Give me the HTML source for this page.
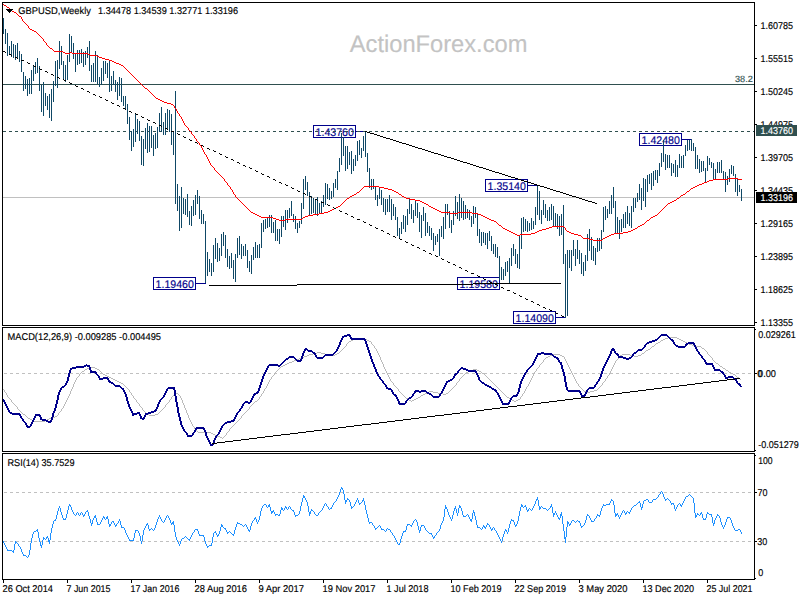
<!DOCTYPE html>
<html><head><meta charset="utf-8"><title>GBPUSD Weekly</title>
<style>html,body{margin:0;padding:0;background:#fff;overflow:hidden}body{width:800px;height:600px;font-family:"Liberation Sans",sans-serif}</style>
</head><body>
<svg width="800" height="600" viewBox="0 0 800 600" style="display:block;font-family:'Liberation Sans',sans-serif;text-rendering:geometricPrecision">
<rect x="0" y="0" width="800" height="600" fill="#ffffff"/>
<g shape-rendering="crispEdges">
<text transform="translate(349.8 51.6) scale(1 1.0)" font-size="24px" fill="#c3c3c3" stroke="#c3c3c3" stroke-width="0.15" text-anchor="start" textLength="177.6" lengthAdjust="spacingAndGlyphs" shape-rendering="auto">ActionForex.com</text>
<rect x="313.5" y="125.5" width="42" height="12" fill="#fff" stroke="#00008b" stroke-width="1"/>
<text transform="translate(315.6 135.7) scale(1 1.0)" font-size="11px" fill="#00008b" stroke="#00008b" stroke-width="0.15" text-anchor="start" textLength="38.3" lengthAdjust="spacingAndGlyphs" >1.43760</text>
<rect x="356" y="131" width="10" height="1" fill="#00008b" />
<rect x="639.5" y="133.5" width="42" height="12" fill="#fff" stroke="#00008b" stroke-width="1"/>
<text transform="translate(641.6 143.7) scale(1 1.0)" font-size="11px" fill="#00008b" stroke="#00008b" stroke-width="0.15" text-anchor="start" textLength="38.3" lengthAdjust="spacingAndGlyphs" >1.42480</text>
<rect x="682" y="139" width="10" height="1" fill="#00008b" />
<rect x="485.5" y="179.5" width="42" height="12" fill="#fff" stroke="#00008b" stroke-width="1"/>
<text transform="translate(487.6 189.7) scale(1 1.0)" font-size="11px" fill="#00008b" stroke="#00008b" stroke-width="0.15" text-anchor="start" textLength="38.3" lengthAdjust="spacingAndGlyphs" >1.35140</text>
<rect x="528" y="185" width="10" height="1" fill="#00008b" />
<rect x="153.5" y="277.5" width="42" height="12" fill="#fff" stroke="#00008b" stroke-width="1"/>
<text transform="translate(155.6 287.7) scale(1 1.0)" font-size="11px" fill="#00008b" stroke="#00008b" stroke-width="0.15" text-anchor="start" textLength="38.3" lengthAdjust="spacingAndGlyphs" >1.19460</text>
<rect x="196" y="283" width="10" height="1" fill="#00008b" />
<rect x="457.5" y="277.5" width="42" height="12" fill="#fff" stroke="#00008b" stroke-width="1"/>
<text transform="translate(459.6 287.7) scale(1 1.0)" font-size="11px" fill="#00008b" stroke="#00008b" stroke-width="0.15" text-anchor="start" textLength="38.3" lengthAdjust="spacingAndGlyphs" >1.19580</text>
<rect x="500" y="283" width="10" height="1" fill="#00008b" />
<rect x="513.5" y="311.5" width="42" height="12" fill="#fff" stroke="#00008b" stroke-width="1"/>
<text transform="translate(515.6 321.7) scale(1 1.0)" font-size="11px" fill="#00008b" stroke="#00008b" stroke-width="0.15" text-anchor="start" textLength="38.3" lengthAdjust="spacingAndGlyphs" >1.14090</text>
<rect x="556" y="317" width="10" height="1" fill="#00008b" />
<rect x="3" y="84" width="751" height="1" fill="#2f4f4f" />
<text transform="translate(735 82) scale(1 1.0)" font-size="9px" fill="#2f4f4f" stroke="#2f4f4f" stroke-width="0.15" text-anchor="start" textLength="17.8" lengthAdjust="spacingAndGlyphs" >38.2</text>
<rect x="3" y="197" width="751" height="1" fill="#c0c0c0" />
<path d="M3 131h3v1h-3zM9 131h3v1h-3zM15 131h3v1h-3zM21 131h3v1h-3zM27 131h3v1h-3zM33 131h3v1h-3zM39 131h3v1h-3zM45 131h3v1h-3zM51 131h3v1h-3zM57 131h3v1h-3zM63 131h3v1h-3zM69 131h3v1h-3zM75 131h3v1h-3zM81 131h3v1h-3zM87 131h3v1h-3zM93 131h3v1h-3zM99 131h3v1h-3zM105 131h3v1h-3zM111 131h3v1h-3zM117 131h3v1h-3zM123 131h3v1h-3zM129 131h3v1h-3zM135 131h3v1h-3zM141 131h3v1h-3zM147 131h3v1h-3zM153 131h3v1h-3zM159 131h3v1h-3zM165 131h3v1h-3zM171 131h3v1h-3zM177 131h3v1h-3zM183 131h3v1h-3zM189 131h3v1h-3zM195 131h3v1h-3zM201 131h3v1h-3zM207 131h3v1h-3zM213 131h3v1h-3zM219 131h3v1h-3zM225 131h3v1h-3zM231 131h3v1h-3zM237 131h3v1h-3zM243 131h3v1h-3zM249 131h3v1h-3zM255 131h3v1h-3zM261 131h3v1h-3zM267 131h3v1h-3zM273 131h3v1h-3zM279 131h3v1h-3zM285 131h3v1h-3zM291 131h3v1h-3zM297 131h3v1h-3zM303 131h3v1h-3zM309 131h3v1h-3zM315 131h3v1h-3zM321 131h3v1h-3zM327 131h3v1h-3zM333 131h3v1h-3zM339 131h3v1h-3zM345 131h3v1h-3zM351 131h3v1h-3zM357 131h3v1h-3zM363 131h3v1h-3zM369 131h3v1h-3zM375 131h3v1h-3zM381 131h3v1h-3zM387 131h3v1h-3zM393 131h3v1h-3zM399 131h3v1h-3zM405 131h3v1h-3zM411 131h3v1h-3zM417 131h3v1h-3zM423 131h3v1h-3zM429 131h3v1h-3zM435 131h3v1h-3zM441 131h3v1h-3zM447 131h3v1h-3zM453 131h3v1h-3zM459 131h3v1h-3zM465 131h3v1h-3zM471 131h3v1h-3zM477 131h3v1h-3zM483 131h3v1h-3zM489 131h3v1h-3zM495 131h3v1h-3zM501 131h3v1h-3zM507 131h3v1h-3zM513 131h3v1h-3zM519 131h3v1h-3zM525 131h3v1h-3zM531 131h3v1h-3zM537 131h3v1h-3zM543 131h3v1h-3zM549 131h3v1h-3zM555 131h3v1h-3zM561 131h3v1h-3zM567 131h3v1h-3zM573 131h3v1h-3zM579 131h3v1h-3zM585 131h3v1h-3zM591 131h3v1h-3zM597 131h3v1h-3zM603 131h3v1h-3zM609 131h3v1h-3zM615 131h3v1h-3zM621 131h3v1h-3zM627 131h3v1h-3zM633 131h3v1h-3zM639 131h3v1h-3zM645 131h3v1h-3zM651 131h3v1h-3zM657 131h3v1h-3zM663 131h3v1h-3zM669 131h3v1h-3zM675 131h3v1h-3zM681 131h3v1h-3zM687 131h3v1h-3zM693 131h3v1h-3zM699 131h3v1h-3zM705 131h3v1h-3zM711 131h3v1h-3zM717 131h3v1h-3zM723 131h3v1h-3zM729 131h3v1h-3zM735 131h3v1h-3zM741 131h3v1h-3zM747 131h3v1h-3zM753 131h1v1h-1z" fill="#2f4f4f"/>
<path d="M3 18h1v16h-1zM5 29h1v15h-1zM7 33h1v23h-1zM9 46h1v8h-1zM11 41h1v16h-1zM13 44h1v14h-1zM15 45h1v15h-1zM17 43h1v16h-1zM19 51h1v11h-1zM21 54h1v18h-1zM23 72h1v19h-1zM25 76h1v13h-1zM27 79h1v17h-1zM29 78h1v16h-1zM31 70h1v24h-1zM33 65h1v16h-1zM35 62h1v12h-1zM37 58h1v15h-1zM39 66h1v25h-1zM41 85h1v27h-1zM43 82h1v34h-1zM45 93h1v13h-1zM47 96h1v14h-1zM49 94h1v24h-1zM51 89h1v32h-1zM53 81h1v21h-1zM55 61h1v25h-1zM57 60h1v28h-1zM59 41h1v28h-1zM61 46h1v19h-1zM63 61h1v18h-1zM65 65h1v17h-1zM67 55h1v25h-1zM69 34h1v28h-1zM71 36h1v16h-1zM73 43h1v16h-1zM75 54h1v18h-1zM77 50h1v15h-1zM79 50h1v14h-1zM81 49h1v14h-1zM83 52h1v15h-1zM85 51h1v14h-1zM87 47h1v11h-1zM89 41h1v30h-1zM91 65h1v17h-1zM93 63h1v19h-1zM95 51h1v31h-1zM97 55h1v29h-1zM99 77h1v10h-1zM101 68h1v17h-1zM103 61h1v20h-1zM105 61h1v13h-1zM107 63h1v15h-1zM109 61h1v31h-1zM111 76h1v15h-1zM113 71h1v14h-1zM115 80h1v12h-1zM117 82h1v18h-1zM119 77h1v19h-1zM121 78h1v24h-1zM123 96h1v10h-1zM125 96h1v13h-1zM127 104h1v20h-1zM129 117h1v23h-1zM131 131h1v20h-1zM133 129h1v18h-1zM135 114h1v28h-1zM137 119h1v15h-1zM139 121h1v20h-1zM141 136h1v29h-1zM143 139h1v27h-1zM145 128h1v21h-1zM147 123h1v30h-1zM149 126h1v26h-1zM151 126h1v22h-1zM153 135h1v21h-1zM155 133h1v16h-1zM157 127h1v21h-1zM159 113h1v19h-1zM161 107h1v25h-1zM163 122h1v13h-1zM165 113h1v22h-1zM167 109h1v20h-1zM169 110h1v22h-1zM171 114h1v31h-1zM173 131h1v24h-1zM175 91h1v113h-1zM177 184h1v27h-1zM179 196h1v35h-1zM181 187h1v41h-1zM183 198h1v16h-1zM185 199h1v16h-1zM187 194h1v23h-1zM189 211h1v14h-1zM191 206h1v20h-1zM193 200h1v16h-1zM195 195h1v20h-1zM197 190h1v14h-1zM199 196h1v23h-1zM201 210h1v14h-1zM203 214h1v10h-1zM205 221h1v62h-1zM207 252h1v24h-1zM209 259h1v13h-1zM211 263h1v13h-1zM213 245h1v27h-1zM215 238h1v21h-1zM217 243h1v19h-1zM219 248h1v13h-1zM221 234h1v22h-1zM223 232h1v14h-1zM225 235h1v23h-1zM227 249h1v18h-1zM229 256h1v13h-1zM231 253h1v15h-1zM233 260h1v19h-1zM235 254h1v28h-1zM237 238h1v20h-1zM239 236h1v19h-1zM241 244h1v15h-1zM243 246h1v10h-1zM245 244h1v12h-1zM247 250h1v18h-1zM249 261h1v11h-1zM251 255h1v19h-1zM253 247h1v13h-1zM255 242h1v16h-1zM257 245h1v13h-1zM259 244h1v14h-1zM261 223h1v25h-1zM263 220h1v12h-1zM265 219h1v10h-1zM267 218h1v10h-1zM269 215h1v12h-1zM271 215h1v18h-1zM273 222h1v11h-1zM275 220h1v21h-1zM277 229h1v12h-1zM279 229h1v15h-1zM281 216h1v21h-1zM283 216h1v11h-1zM285 210h1v20h-1zM287 210h1v13h-1zM289 208h1v10h-1zM291 201h1v15h-1zM293 214h1v8h-1zM295 216h1v13h-1zM297 223h1v10h-1zM299 221h1v7h-1zM301 203h1v21h-1zM303 179h1v30h-1zM305 176h1v14h-1zM307 182h1v14h-1zM309 192h1v24h-1zM311 196h1v18h-1zM313 198h1v15h-1zM315 199h1v15h-1zM317 197h1v19h-1zM319 203h1v11h-1zM321 201h1v13h-1zM323 195h1v12h-1zM325 183h1v22h-1zM327 184h1v15h-1zM329 188h1v12h-1zM331 191h1v8h-1zM333 183h1v14h-1zM335 179h1v9h-1zM337 171h1v19h-1zM339 158h1v14h-1zM341 133h1v32h-1zM343 137h1v19h-1zM345 146h1v25h-1zM347 146h1v23h-1zM349 152h1v13h-1zM351 151h1v23h-1zM353 159h1v12h-1zM355 155h1v11h-1zM357 141h1v20h-1zM359 140h1v15h-1zM361 148h1v10h-1zM363 136h1v15h-1zM365 132h1v25h-1zM367 153h1v19h-1zM369 168h1v20h-1zM371 179h1v11h-1zM373 179h1v10h-1zM375 186h1v14h-1zM377 195h1v11h-1zM379 188h1v11h-1zM381 190h1v15h-1zM383 198h1v14h-1zM385 199h1v16h-1zM387 199h1v13h-1zM389 195h1v17h-1zM391 199h1v21h-1zM393 204h1v12h-1zM395 207h1v13h-1zM397 217h1v19h-1zM399 228h1v11h-1zM401 222h1v12h-1zM403 215h1v14h-1zM405 216h1v16h-1zM407 209h1v16h-1zM409 199h1v15h-1zM411 204h1v15h-1zM413 210h1v13h-1zM415 201h1v15h-1zM417 203h1v15h-1zM419 212h1v20h-1zM421 215h1v23h-1zM423 207h1v14h-1zM425 213h1v23h-1zM427 222h1v11h-1zM429 226h1v10h-1zM431 228h1v12h-1zM433 233h1v18h-1zM435 236h1v9h-1zM437 234h1v8h-1zM439 229h1v27h-1zM441 226h1v11h-1zM443 217h1v22h-1zM445 204h1v25h-1zM447 204h1v11h-1zM449 211h1v17h-1zM451 220h1v13h-1zM453 211h1v14h-1zM455 196h1v20h-1zM457 202h1v17h-1zM459 194h1v27h-1zM461 198h1v20h-1zM463 201h1v19h-1zM465 205h1v14h-1zM467 209h1v9h-1zM469 210h1v10h-1zM471 216h1v11h-1zM473 206h1v18h-1zM475 207h1v11h-1zM477 213h1v23h-1zM479 229h1v14h-1zM481 232h1v14h-1zM483 232h1v11h-1zM485 233h1v12h-1zM487 233h1v16h-1zM489 231h1v10h-1zM491 236h1v15h-1zM493 244h1v10h-1zM495 244h1v13h-1zM497 247h1v11h-1zM499 256h1v24h-1zM501 267h1v13h-1zM503 269h1v11h-1zM505 262h1v14h-1zM507 261h1v11h-1zM509 258h1v26h-1zM511 248h1v18h-1zM513 244h1v12h-1zM515 249h1v15h-1zM517 254h1v14h-1zM519 235h1v34h-1zM521 218h1v31h-1zM523 217h1v15h-1zM525 219h1v12h-1zM527 221h1v11h-1zM529 223h1v8h-1zM531 218h1v12h-1zM533 221h1v8h-1zM535 207h1v18h-1zM537 185h1v30h-1zM539 191h1v29h-1zM541 210h1v14h-1zM543 200h1v15h-1zM545 204h1v14h-1zM547 210h1v11h-1zM549 207h1v14h-1zM551 204h1v16h-1zM553 206h1v20h-1zM555 213h1v13h-1zM557 214h1v15h-1zM559 216h1v20h-1zM561 214h1v21h-1zM563 205h1v59h-1zM565 254h1v64h-1zM567 250h1v66h-1zM569 250h1v18h-1zM571 250h1v21h-1zM573 240h1v16h-1zM575 249h1v17h-1zM577 240h1v19h-1zM579 250h1v14h-1zM581 253h1v21h-1zM583 262h1v14h-1zM585 255h1v16h-1zM587 234h1v27h-1zM589 229h1v22h-1zM591 237h1v23h-1zM593 246h1v15h-1zM595 248h1v17h-1zM597 238h1v14h-1zM599 238h1v13h-1zM601 230h1v19h-1zM603 207h1v25h-1zM605 206h1v14h-1zM607 209h1v9h-1zM609 201h1v13h-1zM611 195h1v19h-1zM613 187h1v21h-1zM615 201h1v32h-1zM617 217h1v16h-1zM619 220h1v19h-1zM621 219h1v13h-1zM623 214h1v14h-1zM625 212h1v16h-1zM627 206h1v18h-1zM629 213h1v13h-1zM631 206h1v22h-1zM633 198h1v14h-1zM635 198h1v10h-1zM637 193h1v9h-1zM639 184h1v16h-1zM641 188h1v22h-1zM643 178h1v23h-1zM645 179h1v28h-1zM647 175h1v17h-1zM649 174h1v10h-1zM651 173h1v17h-1zM653 171h1v15h-1zM655 170h1v10h-1zM657 170h1v13h-1zM659 163h1v13h-1zM661 153h1v14h-1zM663 140h1v22h-1zM665 154h1v16h-1zM667 155h1v13h-1zM669 155h1v13h-1zM671 163h1v13h-1zM673 164h1v9h-1zM675 160h1v17h-1zM677 165h1v12h-1zM679 154h1v14h-1zM681 156h1v12h-1zM683 155h1v13h-1zM685 145h1v11h-1zM687 140h1v11h-1zM689 140h1v10h-1zM691 139h1v12h-1zM693 143h1v8h-1zM695 147h1v22h-1zM697 155h1v14h-1zM699 159h1v14h-1zM701 161h1v11h-1zM703 161h1v10h-1zM705 168h1v14h-1zM707 156h1v15h-1zM709 158h1v7h-1zM711 162h1v6h-1zM713 163h1v17h-1zM715 169h1v11h-1zM717 162h1v11h-1zM719 162h1v11h-1zM721 160h1v13h-1zM723 171h1v8h-1zM725 172h1v20h-1zM727 176h1v9h-1zM729 169h1v13h-1zM731 165h1v9h-1zM733 166h1v10h-1zM735 174h1v18h-1zM737 178h1v18h-1zM739 185h1v7h-1zM741 189h1v12h-1z" fill="#0f4866"/>
<path d="M3 4h1v1h-1zM4 5h2v1h-2zM6 6h1v1h-1zM7 7h2v1h-2zM9 8h1v1h-1zM10 9h1v1h-1zM11 10h1v1h-1zM12 11h2v1h-2zM14 12h2v1h-2zM16 13h1v1h-1zM17 14h1v1h-1zM18 15h1v1h-1zM19 16h2v1h-2zM21 17h1v2h-1zM22 19h1v2h-1zM23 21h1v1h-1zM24 22h1v1h-1zM25 23h1v1h-1zM26 24h1v1h-1zM27 25h1v1h-1zM28 26h1v2h-1zM29 28h1v1h-1zM30 29h2v1h-2zM32 30h2v1h-2zM34 31h2v1h-2zM36 32h1v1h-1zM37 33h1v1h-1zM38 34h1v1h-1zM39 35h1v1h-1zM40 36h1v1h-1zM41 37h1v1h-1zM42 38h1v1h-1zM43 39h1v2h-1zM44 41h1v1h-1zM45 42h1v1h-1zM46 43h1v2h-1zM47 45h1v1h-1zM48 46h1v1h-1zM49 47h1v1h-1zM50 48h2v1h-2zM52 49h1v1h-1zM53 50h1v1h-1zM54 51h9v1h-9zM63 52h2v1h-2zM65 53h5v1h-5zM70 52h2v1h-2zM72 53h16v1h-16zM88 54h2v1h-2zM90 55h7v1h-7zM97 56h2v1h-2zM99 57h3v1h-3zM102 58h3v1h-3zM105 59h4v1h-4zM109 60h3v1h-3zM112 61h2v1h-2zM114 62h2v1h-2zM116 63h3v1h-3zM119 64h2v1h-2zM121 65h2v1h-2zM123 66h1v1h-1zM124 67h1v1h-1zM125 68h1v1h-1zM126 69h1v1h-1zM127 70h1v1h-1zM128 71h1v1h-1zM129 72h1v1h-1zM130 73h1v1h-1zM131 74h1v1h-1zM132 75h1v1h-1zM133 76h1v1h-1zM134 77h1v1h-1zM135 78h1v1h-1zM136 79h1v1h-1zM137 80h1v1h-1zM138 81h1v1h-1zM139 82h1v1h-1zM140 83h1v1h-1zM141 84h1v1h-1zM142 85h1v1h-1zM143 86h1v1h-1zM144 87h1v1h-1zM145 88h2v1h-2zM147 89h1v1h-1zM148 90h1v1h-1zM149 91h1v1h-1zM150 92h1v1h-1zM151 93h1v1h-1zM152 94h1v1h-1zM153 95h1v1h-1zM154 96h1v1h-1zM155 97h1v1h-1zM156 98h2v1h-2zM158 99h2v1h-2zM160 100h2v1h-2zM162 101h2v1h-2zM164 102h3v1h-3zM167 103h4v1h-4zM171 104h2v1h-2zM173 105h1v1h-1zM174 106h1v2h-1zM175 108h1v1h-1zM176 109h1v2h-1zM177 111h1v2h-1zM178 113h1v1h-1zM179 114h1v2h-1zM180 116h1v1h-1zM181 117h1v2h-1zM182 119h1v2h-1zM183 121h1v2h-1zM184 123h1v2h-1zM185 125h1v1h-1zM186 126h1v1h-1zM187 127h1v1h-1zM188 128h1v2h-1zM189 130h1v1h-1zM190 131h1v1h-1zM191 132h1v2h-1zM192 134h1v1h-1zM193 135h1v1h-1zM194 136h1v2h-1zM195 138h1v1h-1zM196 139h1v2h-1zM197 141h1v1h-1zM198 142h1v1h-1zM199 143h1v2h-1zM200 145h1v1h-1zM201 146h1v2h-1zM202 148h1v2h-1zM203 150h1v2h-1zM204 152h1v2h-1zM205 154h1v1h-1zM206 155h1v2h-1zM207 157h1v2h-1zM208 159h1v2h-1zM209 161h1v2h-1zM210 163h1v2h-1zM211 165h1v1h-1zM212 166h1v1h-1zM213 167h1v1h-1zM214 168h1v2h-1zM215 170h1v1h-1zM216 171h1v1h-1zM217 172h1v1h-1zM218 173h1v1h-1zM219 174h1v1h-1zM220 175h1v1h-1zM221 176h1v1h-1zM222 177h1v1h-1zM223 178h1v1h-1zM224 179h1v2h-1zM225 181h1v1h-1zM226 182h1v1h-1zM227 183h1v2h-1zM228 185h1v1h-1zM229 186h1v1h-1zM230 187h1v2h-1zM231 189h1v1h-1zM232 190h1v2h-1zM233 192h1v2h-1zM234 194h1v1h-1zM235 195h1v2h-1zM236 197h1v1h-1zM237 198h1v1h-1zM238 199h1v1h-1zM239 200h1v1h-1zM240 201h1v1h-1zM241 202h1v1h-1zM242 203h1v1h-1zM243 204h1v1h-1zM244 205h1v1h-1zM245 206h1v1h-1zM246 207h1v1h-1zM247 208h1v1h-1zM248 209h1v1h-1zM249 210h1v1h-1zM250 211h1v1h-1zM251 212h2v1h-2zM253 213h2v1h-2zM255 214h2v1h-2zM257 215h2v1h-2zM259 216h2v1h-2zM261 217h12v1h-12zM273 218h3v1h-3zM276 219h3v1h-3zM279 220h6v1h-6zM285 219h17v1h-17zM302 218h1v1h-1zM303 217h2v1h-2zM305 216h3v1h-3zM308 215h5v1h-5zM313 214h6v1h-6zM319 213h5v1h-5zM324 212h4v1h-4zM328 211h2v1h-2zM330 210h2v1h-2zM332 209h2v1h-2zM334 208h2v1h-2zM336 207h2v1h-2zM338 206h2v1h-2zM340 205h1v1h-1zM341 204h1v1h-1zM342 203h1v1h-1zM343 202h1v1h-1zM344 201h1v1h-1zM345 200h1v1h-1zM346 199h1v1h-1zM347 198h2v1h-2zM349 197h1v1h-1zM350 196h2v1h-2zM352 195h2v1h-2zM354 194h2v1h-2zM356 193h1v1h-1zM357 192h2v1h-2zM359 191h1v1h-1zM360 190h1v1h-1zM361 189h1v1h-1zM362 188h1v1h-1zM363 187h1v1h-1zM364 186h15v1h-15zM379 187h5v1h-5zM384 188h4v1h-4zM388 189h4v1h-4zM392 190h2v1h-2zM394 191h2v1h-2zM396 192h2v1h-2zM398 193h1v1h-1zM399 194h2v1h-2zM401 195h1v1h-1zM402 196h2v1h-2zM404 197h2v1h-2zM406 198h4v1h-4zM410 199h5v1h-5zM415 200h5v1h-5zM420 201h2v1h-2zM422 202h2v1h-2zM424 203h2v1h-2zM426 204h2v1h-2zM428 205h1v1h-1zM429 206h2v1h-2zM431 207h2v1h-2zM433 208h2v1h-2zM435 209h2v1h-2zM437 210h2v1h-2zM439 211h2v1h-2zM441 212h9v1h-9zM450 213h8v1h-8zM458 212h14v1h-14zM472 213h6v1h-6zM478 214h3v1h-3zM481 215h2v1h-2zM483 216h2v1h-2zM485 217h2v1h-2zM487 218h2v1h-2zM489 219h2v1h-2zM491 220h3v1h-3zM494 221h2v1h-2zM496 222h1v1h-1zM497 223h1v1h-1zM498 224h1v1h-1zM499 225h2v1h-2zM501 226h1v1h-1zM502 227h1v1h-1zM503 228h2v1h-2zM505 229h2v1h-2zM507 230h2v1h-2zM509 231h2v1h-2zM511 232h2v1h-2zM513 233h2v1h-2zM515 234h2v1h-2zM517 235h3v1h-3zM520 234h11v1h-11zM531 233h4v1h-4zM535 232h2v1h-2zM537 231h2v1h-2zM539 230h3v1h-3zM542 229h4v1h-4zM546 228h3v1h-3zM549 227h3v1h-3zM552 226h12v1h-12zM564 227h1v1h-1zM565 228h1v2h-1zM566 230h1v1h-1zM567 231h2v1h-2zM569 232h2v1h-2zM571 233h3v1h-3zM574 234h4v1h-4zM578 235h3v1h-3zM581 236h1v1h-1zM582 237h1v1h-1zM583 238h6v1h-6zM589 239h4v1h-4zM593 240h9v1h-9zM602 239h1v1h-1zM603 238h2v1h-2zM605 237h2v1h-2zM607 236h2v1h-2zM609 235h2v1h-2zM611 234h3v1h-3zM614 233h9v1h-9zM623 232h5v1h-5zM628 231h3v1h-3zM631 230h2v1h-2zM633 229h2v1h-2zM635 228h2v1h-2zM637 227h1v1h-1zM638 226h2v1h-2zM640 225h2v1h-2zM642 224h2v1h-2zM644 223h1v1h-1zM645 222h1v1h-1zM646 221h1v1h-1zM647 220h2v1h-2zM649 219h1v1h-1zM650 218h1v1h-1zM651 217h2v1h-2zM653 216h2v1h-2zM655 215h2v1h-2zM657 214h1v1h-1zM658 213h1v1h-1zM659 212h1v1h-1zM660 211h1v1h-1zM661 210h1v1h-1zM662 209h1v1h-1zM663 208h1v1h-1zM664 207h1v1h-1zM665 206h1v1h-1zM666 205h1v1h-1zM667 204h1v1h-1zM668 203h2v1h-2zM670 202h2v1h-2zM672 201h2v1h-2zM674 200h2v1h-2zM676 199h1v1h-1zM677 198h2v1h-2zM679 197h1v1h-1zM680 196h1v1h-1zM681 195h2v1h-2zM683 194h2v1h-2zM685 193h1v1h-1zM686 192h1v1h-1zM687 191h2v1h-2zM689 190h1v1h-1zM690 189h1v1h-1zM691 188h2v1h-2zM693 187h2v1h-2zM695 186h2v1h-2zM697 185h2v1h-2zM699 184h3v1h-3zM702 183h2v1h-2zM704 182h3v1h-3zM707 181h2v1h-2zM709 180h4v1h-4zM713 179h15v1h-15zM728 178h10v1h-10zM738 179h4v1h-4z" fill="#ff0000"/>
<path d="M3 51h2v1h-2zM5 52h1v1h-1zM9 54h2v1h-2zM11 55h1v1h-1zM15 57h2v1h-2zM17 58h1v1h-1zM21 60h3v1h-3zM27 62h1v1h-1zM28 63h2v1h-2zM33 65h1v1h-1zM34 66h2v1h-2zM39 68h1v1h-1zM40 69h2v1h-2zM45 71h2v1h-2zM47 72h1v1h-1zM51 74h2v1h-2zM53 75h1v1h-1zM57 77h2v1h-2zM59 78h1v1h-1zM63 79h1v1h-1zM64 80h2v1h-2zM69 82h1v1h-1zM70 83h2v1h-2zM75 85h1v1h-1zM76 86h2v1h-2zM81 88h2v1h-2zM83 89h1v1h-1zM87 91h2v1h-2zM89 92h1v1h-1zM93 94h2v1h-2zM95 95h1v1h-1zM99 96h1v1h-1zM100 97h2v1h-2zM105 99h1v1h-1zM106 100h2v1h-2zM111 102h1v1h-1zM112 103h2v1h-2zM117 105h2v1h-2zM119 106h1v1h-1zM123 108h2v1h-2zM125 109h1v1h-1zM129 111h2v1h-2zM131 112h1v1h-1zM135 113h1v1h-1zM136 114h2v1h-2zM141 116h1v1h-1zM142 117h2v1h-2zM147 119h1v1h-1zM148 120h2v1h-2zM153 122h2v1h-2zM155 123h1v1h-1zM159 125h2v1h-2zM161 126h1v1h-1zM165 128h2v1h-2zM167 129h1v1h-1zM171 131h3v1h-3zM177 133h1v1h-1zM178 134h2v1h-2zM183 136h1v1h-1zM184 137h2v1h-2zM189 139h1v1h-1zM190 140h2v1h-2zM195 142h2v1h-2zM197 143h1v1h-1zM201 145h2v1h-2zM203 146h1v1h-1zM207 148h2v1h-2zM209 149h1v1h-1zM213 150h1v1h-1zM214 151h2v1h-2zM219 153h1v1h-1zM220 154h2v1h-2zM225 156h1v1h-1zM226 157h2v1h-2zM231 159h2v1h-2zM233 160h1v1h-1zM237 162h2v1h-2zM239 163h1v1h-1zM243 165h2v1h-2zM245 166h1v1h-1zM249 167h1v1h-1zM250 168h2v1h-2zM255 170h1v1h-1zM256 171h2v1h-2zM261 173h1v1h-1zM262 174h2v1h-2zM267 176h2v1h-2zM269 177h1v1h-1zM273 179h2v1h-2zM275 180h1v1h-1zM279 182h2v1h-2zM281 183h1v1h-1zM285 184h1v1h-1zM286 185h2v1h-2zM291 187h1v1h-1zM292 188h2v1h-2zM297 190h1v1h-1zM298 191h2v1h-2zM303 193h2v1h-2zM305 194h1v1h-1zM309 196h2v1h-2zM311 197h1v1h-1zM315 199h2v1h-2zM317 200h1v1h-1zM321 202h3v1h-3zM327 204h1v1h-1zM328 205h2v1h-2zM333 207h1v1h-1zM334 208h2v1h-2zM339 210h1v1h-1zM340 211h2v1h-2zM345 213h2v1h-2zM347 214h1v1h-1zM351 216h2v1h-2zM353 217h1v1h-1zM357 219h3v1h-3zM363 221h1v1h-1zM364 222h2v1h-2zM369 224h1v1h-1zM370 225h2v1h-2zM375 227h1v1h-1zM376 228h2v1h-2zM381 230h2v1h-2zM383 231h1v1h-1zM387 233h2v1h-2zM389 234h1v1h-1zM393 236h2v1h-2zM395 237h1v1h-1zM399 238h1v1h-1zM400 239h2v1h-2zM405 241h1v1h-1zM406 242h2v1h-2zM411 244h1v1h-1zM412 245h2v1h-2zM417 247h2v1h-2zM419 248h1v1h-1zM423 250h2v1h-2zM425 251h1v1h-1zM429 253h2v1h-2zM431 254h1v1h-1zM435 255h1v1h-1zM436 256h2v1h-2zM441 258h1v1h-1zM442 259h2v1h-2zM447 261h1v1h-1zM448 262h2v1h-2zM453 264h2v1h-2zM455 265h1v1h-1zM459 267h2v1h-2zM461 268h1v1h-1zM465 270h2v1h-2zM467 271h1v1h-1zM471 273h3v1h-3zM477 275h1v1h-1zM478 276h2v1h-2zM483 278h1v1h-1zM484 279h2v1h-2zM489 281h1v1h-1zM490 282h2v1h-2zM495 284h2v1h-2zM497 285h1v1h-1zM501 287h2v1h-2zM503 288h1v1h-1zM507 290h3v1h-3zM513 292h1v1h-1zM514 293h2v1h-2zM519 295h1v1h-1zM520 296h2v1h-2zM525 298h1v1h-1zM526 299h2v1h-2zM531 301h2v1h-2zM533 302h1v1h-1zM537 304h2v1h-2zM539 305h1v1h-1zM543 307h2v1h-2zM545 308h1v1h-1zM549 309h1v1h-1zM550 310h2v1h-2zM555 312h1v1h-1zM556 313h2v1h-2zM561 315h1v1h-1zM562 316h2v1h-2z" fill="#000"/>
<path d="M365 131h2v1h-2zM367 132h3v1h-3zM370 133h4v1h-4zM374 134h3v1h-3zM377 135h3v1h-3zM380 136h3v1h-3zM383 137h3v1h-3zM386 138h4v1h-4zM390 139h3v1h-3zM393 140h3v1h-3zM396 141h3v1h-3zM399 142h3v1h-3zM402 143h4v1h-4zM406 144h3v1h-3zM409 145h3v1h-3zM412 146h3v1h-3zM415 147h3v1h-3zM418 148h4v1h-4zM422 149h3v1h-3zM425 150h3v1h-3zM428 151h3v1h-3zM431 152h3v1h-3zM434 153h4v1h-4zM438 154h3v1h-3zM441 155h3v1h-3zM444 156h3v1h-3zM447 157h4v1h-4zM451 158h3v1h-3zM454 159h3v1h-3zM457 160h3v1h-3zM460 161h3v1h-3zM463 162h4v1h-4zM467 163h3v1h-3zM470 164h3v1h-3zM473 165h3v1h-3zM476 166h3v1h-3zM479 167h4v1h-4zM483 168h3v1h-3zM486 169h3v1h-3zM489 170h3v1h-3zM492 171h3v1h-3zM495 172h4v1h-4zM499 173h3v1h-3zM502 174h3v1h-3zM505 175h3v1h-3zM508 176h3v1h-3zM511 177h4v1h-4zM515 178h3v1h-3zM518 179h3v1h-3zM521 180h3v1h-3zM524 181h4v1h-4zM528 182h3v1h-3zM531 183h3v1h-3zM534 184h3v1h-3zM537 185h3v1h-3zM540 186h4v1h-4zM544 187h3v1h-3zM547 188h3v1h-3zM550 189h3v1h-3zM553 190h3v1h-3zM556 191h4v1h-4zM560 192h3v1h-3zM563 193h3v1h-3zM566 194h3v1h-3zM569 195h3v1h-3zM572 196h4v1h-4zM576 197h3v1h-3zM579 198h3v1h-3zM582 199h3v1h-3zM585 200h3v1h-3zM588 201h4v1h-4zM592 202h3v1h-3zM595 203h2v1h-2z" fill="#000"/>
<path d="M209 285h88v1h-88zM297 284h176v1h-176zM473 283h88v1h-88z" fill="#000"/>
<path d="M4 373h3v1h-3zM10 373h3v1h-3zM16 373h3v1h-3zM22 373h3v1h-3zM28 373h3v1h-3zM34 373h3v1h-3zM40 373h3v1h-3zM46 373h3v1h-3zM52 373h3v1h-3zM58 373h3v1h-3zM64 373h3v1h-3zM70 373h3v1h-3zM76 373h3v1h-3zM82 373h3v1h-3zM88 373h3v1h-3zM94 373h3v1h-3zM100 373h3v1h-3zM106 373h3v1h-3zM112 373h3v1h-3zM118 373h3v1h-3zM124 373h3v1h-3zM130 373h3v1h-3zM136 373h3v1h-3zM142 373h3v1h-3zM148 373h3v1h-3zM154 373h3v1h-3zM160 373h3v1h-3zM166 373h3v1h-3zM172 373h3v1h-3zM178 373h3v1h-3zM184 373h3v1h-3zM190 373h3v1h-3zM196 373h3v1h-3zM202 373h3v1h-3zM208 373h3v1h-3zM214 373h3v1h-3zM220 373h3v1h-3zM226 373h3v1h-3zM232 373h3v1h-3zM238 373h3v1h-3zM244 373h3v1h-3zM250 373h3v1h-3zM256 373h3v1h-3zM262 373h3v1h-3zM268 373h3v1h-3zM274 373h3v1h-3zM280 373h3v1h-3zM286 373h3v1h-3zM292 373h3v1h-3zM298 373h3v1h-3zM304 373h3v1h-3zM310 373h3v1h-3zM316 373h3v1h-3zM322 373h3v1h-3zM328 373h3v1h-3zM334 373h3v1h-3zM340 373h3v1h-3zM346 373h3v1h-3zM352 373h3v1h-3zM358 373h3v1h-3zM364 373h3v1h-3zM370 373h3v1h-3zM376 373h3v1h-3zM382 373h3v1h-3zM388 373h3v1h-3zM394 373h3v1h-3zM400 373h3v1h-3zM406 373h3v1h-3zM412 373h3v1h-3zM418 373h3v1h-3zM424 373h3v1h-3zM430 373h3v1h-3zM436 373h3v1h-3zM442 373h3v1h-3zM448 373h3v1h-3zM454 373h3v1h-3zM460 373h3v1h-3zM466 373h3v1h-3zM472 373h3v1h-3zM478 373h3v1h-3zM484 373h3v1h-3zM490 373h3v1h-3zM496 373h3v1h-3zM502 373h3v1h-3zM508 373h3v1h-3zM514 373h3v1h-3zM520 373h3v1h-3zM526 373h3v1h-3zM532 373h3v1h-3zM538 373h3v1h-3zM544 373h3v1h-3zM550 373h3v1h-3zM556 373h3v1h-3zM562 373h3v1h-3zM568 373h3v1h-3zM574 373h3v1h-3zM580 373h3v1h-3zM586 373h3v1h-3zM592 373h3v1h-3zM598 373h3v1h-3zM604 373h3v1h-3zM610 373h3v1h-3zM616 373h3v1h-3zM622 373h3v1h-3zM628 373h3v1h-3zM634 373h3v1h-3zM640 373h3v1h-3zM646 373h3v1h-3zM652 373h3v1h-3zM658 373h3v1h-3zM664 373h3v1h-3zM670 373h3v1h-3zM676 373h3v1h-3zM682 373h3v1h-3zM688 373h3v1h-3zM694 373h3v1h-3zM700 373h3v1h-3zM706 373h3v1h-3zM712 373h3v1h-3zM718 373h3v1h-3zM724 373h3v1h-3zM730 373h3v1h-3zM736 373h3v1h-3zM742 373h3v1h-3zM748 373h3v1h-3z" fill="#c0c0c0"/>
<path d="M3 389h1v1h-1zM4 390h1v2h-1zM5 392h1v1h-1zM6 393h1v2h-1zM7 395h1v2h-1zM8 397h1v1h-1zM9 398h1v1h-1zM10 399h1v1h-1zM11 400h1v2h-1zM12 402h1v1h-1zM13 403h1v1h-1zM14 404h1v1h-1zM15 405h1v1h-1zM16 406h1v1h-1zM17 407h1v2h-1zM18 409h1v1h-1zM19 410h1v1h-1zM20 411h1v1h-1zM21 412h1v1h-1zM22 413h1v1h-1zM23 414h2v1h-2zM25 415h1v1h-1zM26 416h1v1h-1zM27 417h1v1h-1zM28 418h2v1h-2zM30 419h2v1h-2zM32 420h2v1h-2zM34 421h11v1h-11zM45 420h2v1h-2zM47 419h2v1h-2zM49 418h3v1h-3zM52 417h3v1h-3zM55 416h2v1h-2zM57 415h1v1h-1zM58 413h1v2h-1zM59 412h1v1h-1zM60 411h1v1h-1zM61 409h1v2h-1zM62 408h1v1h-1zM63 406h1v2h-1zM64 404h1v2h-1zM65 402h1v2h-1zM66 400h1v2h-1zM67 398h1v2h-1zM68 396h1v2h-1zM69 394h1v2h-1zM70 391h1v3h-1zM71 389h1v2h-1zM72 387h1v2h-1zM73 384h1v3h-1zM74 382h1v2h-1zM75 380h1v2h-1zM76 378h1v2h-1zM77 377h1v1h-1zM78 376h1v1h-1zM79 374h1v2h-1zM80 373h1v1h-1zM81 372h1v1h-1zM82 371h2v1h-2zM84 370h1v1h-1zM85 369h2v1h-2zM87 368h2v1h-2zM89 367h6v1h-6zM95 368h2v1h-2zM97 369h2v1h-2zM99 370h1v1h-1zM100 371h1v1h-1zM101 372h1v1h-1zM102 373h1v1h-1zM103 374h2v1h-2zM105 375h2v1h-2zM107 376h2v1h-2zM109 377h2v1h-2zM111 378h2v1h-2zM113 379h2v1h-2zM115 380h2v1h-2zM117 381h2v1h-2zM119 382h2v1h-2zM121 383h2v1h-2zM123 384h1v1h-1zM124 385h1v1h-1zM125 386h1v1h-1zM126 387h1v1h-1zM127 388h1v1h-1zM128 389h1v1h-1zM129 390h1v2h-1zM130 392h1v1h-1zM131 393h1v2h-1zM132 395h1v1h-1zM133 396h1v2h-1zM134 398h1v1h-1zM135 399h1v1h-1zM136 400h1v2h-1zM137 402h1v1h-1zM138 403h1v1h-1zM139 404h1v2h-1zM140 406h1v1h-1zM141 407h1v1h-1zM142 408h1v2h-1zM143 410h1v1h-1zM144 411h1v1h-1zM145 412h1v2h-1zM146 414h3v1h-3zM149 415h6v1h-6zM155 414h3v1h-3zM158 413h1v1h-1zM159 412h1v1h-1zM160 411h1v1h-1zM161 410h1v1h-1zM162 409h1v1h-1zM163 408h1v1h-1zM164 407h1v1h-1zM165 405h1v2h-1zM166 404h1v1h-1zM167 403h1v1h-1zM168 402h1v1h-1zM169 400h1v2h-1zM170 399h1v1h-1zM171 397h1v2h-1zM172 396h1v1h-1zM173 395h1v1h-1zM174 394h1v1h-1zM175 393h3v1h-3zM178 394h1v1h-1zM179 395h1v1h-1zM180 396h1v2h-1zM181 398h1v2h-1zM182 400h1v3h-1zM183 403h1v2h-1zM184 405h1v3h-1zM185 408h1v2h-1zM186 410h1v3h-1zM187 413h1v2h-1zM188 415h1v3h-1zM189 418h1v2h-1zM190 420h1v2h-1zM191 422h1v2h-1zM192 424h1v2h-1zM193 426h1v1h-1zM194 427h1v2h-1zM195 429h1v1h-1zM196 430h1v1h-1zM197 431h1v1h-1zM198 432h13v1h-13zM211 433h2v1h-2zM213 434h2v1h-2zM215 435h2v1h-2zM217 436h3v1h-3zM220 437h2v1h-2zM222 438h1v1h-1zM223 437h1v1h-1zM224 436h1v1h-1zM225 435h1v1h-1zM226 433h1v2h-1zM227 432h1v1h-1zM228 431h1v1h-1zM229 429h1v2h-1zM230 428h1v1h-1zM231 427h1v1h-1zM232 426h1v1h-1zM233 425h1v1h-1zM234 424h1v1h-1zM235 423h1v1h-1zM236 422h1v1h-1zM237 421h1v1h-1zM238 420h1v1h-1zM239 419h1v1h-1zM240 418h1v1h-1zM241 416h1v2h-1zM242 415h1v1h-1zM243 414h1v1h-1zM244 413h1v1h-1zM245 412h1v1h-1zM246 411h1v1h-1zM247 410h1v1h-1zM248 409h1v1h-1zM249 407h1v2h-1zM250 406h1v1h-1zM251 405h1v1h-1zM252 404h1v1h-1zM253 403h1v1h-1zM254 402h1v1h-1zM255 401h2v1h-2zM257 400h1v1h-1zM258 399h1v1h-1zM259 397h1v2h-1zM260 396h1v1h-1zM261 394h1v2h-1zM262 393h1v1h-1zM263 391h1v2h-1zM264 389h1v2h-1zM265 388h1v1h-1zM266 386h1v2h-1zM267 384h1v2h-1zM268 382h1v2h-1zM269 380h1v2h-1zM270 379h1v1h-1zM271 377h1v2h-1zM272 376h1v1h-1zM273 375h1v1h-1zM274 373h1v2h-1zM275 372h1v1h-1zM276 371h1v1h-1zM277 370h1v1h-1zM278 369h1v1h-1zM279 368h1v1h-1zM280 367h1v1h-1zM281 366h2v1h-2zM283 365h2v1h-2zM285 364h2v1h-2zM287 363h2v1h-2zM289 362h3v1h-3zM292 361h2v1h-2zM294 360h3v1h-3zM297 359h2v1h-2zM299 358h3v1h-3zM302 357h2v1h-2zM304 356h3v1h-3zM307 355h2v1h-2zM309 354h4v1h-4zM313 353h4v1h-4zM317 352h4v1h-4zM321 353h4v1h-4zM325 354h2v1h-2zM327 355h8v1h-8zM335 354h2v1h-2zM337 353h2v1h-2zM339 352h1v1h-1zM340 351h1v1h-1zM341 350h1v1h-1zM342 349h1v1h-1zM343 348h1v1h-1zM344 347h1v1h-1zM345 346h1v1h-1zM346 344h1v2h-1zM347 343h1v1h-1zM348 342h1v1h-1zM349 341h2v1h-2zM351 340h2v1h-2zM353 339h14v1h-14zM367 340h2v1h-2zM369 341h2v1h-2zM371 342h1v2h-1zM372 344h1v1h-1zM373 345h1v1h-1zM374 346h1v2h-1zM375 348h1v1h-1zM376 349h1v2h-1zM377 351h1v2h-1zM378 353h1v2h-1zM379 355h1v2h-1zM380 357h1v3h-1zM381 360h1v2h-1zM382 362h1v2h-1zM383 364h1v3h-1zM384 367h1v2h-1zM385 369h1v2h-1zM386 371h1v2h-1zM387 373h1v2h-1zM388 375h1v2h-1zM389 377h1v2h-1zM390 379h1v2h-1zM391 381h1v1h-1zM392 382h1v1h-1zM393 383h1v2h-1zM394 385h1v1h-1zM395 386h1v1h-1zM396 387h1v1h-1zM397 388h1v1h-1zM398 389h1v2h-1zM399 391h1v1h-1zM400 392h1v1h-1zM401 393h1v1h-1zM402 394h1v1h-1zM403 395h1v1h-1zM404 396h1v1h-1zM405 397h1v1h-1zM406 398h2v1h-2zM408 399h1v1h-1zM409 400h2v1h-2zM411 401h1v1h-1zM412 400h2v1h-2zM414 399h2v1h-2zM416 398h2v1h-2zM418 397h2v1h-2zM420 396h1v1h-1zM421 395h2v1h-2zM423 394h2v1h-2zM425 393h2v1h-2zM427 392h2v1h-2zM429 391h4v1h-4zM433 392h5v1h-5zM438 393h5v1h-5zM443 394h3v1h-3zM446 393h2v1h-2zM448 392h1v1h-1zM449 391h1v1h-1zM450 390h1v1h-1zM451 389h1v1h-1zM452 388h1v1h-1zM453 387h1v1h-1zM454 386h1v1h-1zM455 385h1v1h-1zM456 383h1v2h-1zM457 382h1v1h-1zM458 381h1v1h-1zM459 379h1v2h-1zM460 378h1v1h-1zM461 377h1v1h-1zM462 376h1v1h-1zM463 375h1v1h-1zM464 374h1v1h-1zM465 373h1v1h-1zM466 372h2v1h-2zM468 371h2v1h-2zM470 370h3v1h-3zM473 369h4v1h-4zM477 370h2v1h-2zM479 371h2v1h-2zM481 372h1v1h-1zM482 373h2v1h-2zM484 374h1v1h-1zM485 375h1v1h-1zM486 376h1v1h-1zM487 377h1v1h-1zM488 378h1v1h-1zM489 379h1v1h-1zM490 380h1v1h-1zM491 381h1v1h-1zM492 382h1v1h-1zM493 383h1v1h-1zM494 384h1v1h-1zM495 385h1v1h-1zM496 386h1v1h-1zM497 387h1v1h-1zM498 388h1v1h-1zM499 389h1v1h-1zM500 390h1v1h-1zM501 391h1v1h-1zM502 392h1v1h-1zM503 393h1v1h-1zM504 394h1v1h-1zM505 395h1v1h-1zM506 396h1v1h-1zM507 397h2v1h-2zM509 398h1v1h-1zM510 399h2v1h-2zM512 400h2v1h-2zM514 401h2v1h-2zM516 400h2v1h-2zM518 399h2v1h-2zM520 397h1v2h-1zM521 396h1v1h-1zM522 394h1v2h-1zM523 393h1v1h-1zM524 391h1v2h-1zM525 389h1v2h-1zM526 387h1v2h-1zM527 386h1v1h-1zM528 384h1v2h-1zM529 382h1v2h-1zM530 380h1v2h-1zM531 378h1v2h-1zM532 376h1v2h-1zM533 374h1v2h-1zM534 372h1v2h-1zM535 371h1v1h-1zM536 369h1v2h-1zM537 368h1v1h-1zM538 367h1v1h-1zM539 365h1v2h-1zM540 364h1v1h-1zM541 363h1v1h-1zM542 362h1v1h-1zM543 360h1v2h-1zM544 359h1v1h-1zM545 358h1v1h-1zM546 357h2v1h-2zM548 356h2v1h-2zM550 355h3v1h-3zM553 354h7v1h-7zM560 355h2v1h-2zM562 356h2v1h-2zM564 357h1v2h-1zM565 359h1v2h-1zM566 361h1v2h-1zM567 363h1v2h-1zM568 365h1v2h-1zM569 367h1v2h-1zM570 369h1v2h-1zM571 371h1v2h-1zM572 373h1v2h-1zM573 375h1v2h-1zM574 377h1v2h-1zM575 379h1v2h-1zM576 381h1v2h-1zM577 383h1v1h-1zM578 384h1v2h-1zM579 386h1v1h-1zM580 387h1v1h-1zM581 388h1v1h-1zM582 389h1v1h-1zM583 390h1v1h-1zM584 391h2v1h-2zM586 392h4v1h-4zM590 391h4v1h-4zM594 390h3v1h-3zM597 389h1v1h-1zM598 388h1v1h-1zM599 387h1v1h-1zM600 386h1v1h-1zM601 385h1v1h-1zM602 383h1v2h-1zM603 382h1v1h-1zM604 381h1v1h-1zM605 379h1v2h-1zM606 378h1v1h-1zM607 376h1v2h-1zM608 375h1v1h-1zM609 373h1v2h-1zM610 371h1v2h-1zM611 369h1v2h-1zM612 367h1v2h-1zM613 365h1v2h-1zM614 363h1v2h-1zM615 361h1v2h-1zM616 360h1v1h-1zM617 359h1v1h-1zM618 357h1v2h-1zM619 356h1v1h-1zM620 355h2v1h-2zM622 354h8v1h-8zM630 355h4v1h-4zM634 356h4v1h-4zM638 355h3v1h-3zM641 354h1v1h-1zM642 353h2v1h-2zM644 352h1v1h-1zM645 351h1v1h-1zM646 350h2v1h-2zM648 349h2v1h-2zM650 348h1v1h-1zM651 347h1v1h-1zM652 346h2v1h-2zM654 345h1v1h-1zM655 344h1v1h-1zM656 343h2v1h-2zM658 342h2v1h-2zM660 341h1v1h-1zM661 340h2v1h-2zM663 339h2v1h-2zM665 338h3v1h-3zM668 337h9v1h-9zM677 338h2v1h-2zM679 339h2v1h-2zM681 340h2v1h-2zM683 341h2v1h-2zM685 342h2v1h-2zM687 343h2v1h-2zM689 344h3v1h-3zM692 345h2v1h-2zM694 346h7v1h-7zM701 347h1v1h-1zM702 348h2v1h-2zM704 349h1v1h-1zM705 350h1v1h-1zM706 351h1v1h-1zM707 352h1v2h-1zM708 354h1v1h-1zM709 355h1v1h-1zM710 356h1v1h-1zM711 357h1v1h-1zM712 358h1v2h-1zM713 360h1v1h-1zM714 361h1v1h-1zM715 362h1v1h-1zM716 363h2v1h-2zM718 364h1v1h-1zM719 365h1v1h-1zM720 366h2v1h-2zM722 367h1v1h-1zM723 368h2v1h-2zM725 369h1v1h-1zM726 370h2v1h-2zM728 371h1v1h-1zM729 372h2v1h-2zM731 373h2v1h-2zM733 374h2v1h-2zM735 375h1v1h-1zM736 376h1v1h-1zM737 377h2v1h-2zM739 378h1v1h-1zM740 379h1v1h-1z" fill="#bababa"/>
<path d="M2 399h2v1h-2zM3 400h2v2h-2zM4 402h2v2h-2zM5 404h2v2h-2zM6 406h2v2h-2zM7 408h2v2h-2zM8 410h2v2h-2zM9 412h3v1h-3zM10 413h10v1h-10zM12 414h9v1h-9zM19 415h2v1h-2zM20 416h2v2h-2zM21 418h2v1h-2zM22 419h2v2h-2zM23 421h2v1h-2zM24 422h2v1h-2zM25 423h2v2h-2zM26 425h2v1h-2zM26 426h5v1h-5zM27 427h3v1h-3zM30 424h2v2h-2zM31 422h2v2h-2zM32 420h2v2h-2zM33 418h2v2h-2zM34 416h2v2h-2zM35 414h5v1h-5zM35 415h6v1h-6zM39 416h2v1h-2zM40 417h2v2h-2zM40 419h6v1h-6zM42 420h6v1h-6zM46 421h6v1h-6zM48 422h3v1h-3zM50 420h2v1h-2zM51 417h2v3h-2zM52 413h2v4h-2zM53 411h2v2h-2zM54 408h2v3h-2zM55 404h2v4h-2zM56 400h2v4h-2zM57 395h2v5h-2zM58 392h2v3h-2zM59 390h2v2h-2zM60 388h2v2h-2zM61 387h3v1h-3zM62 386h3v1h-3zM64 385h2v1h-2zM65 383h2v2h-2zM66 381h2v2h-2zM67 377h2v4h-2zM68 373h2v4h-2zM69 370h2v3h-2zM70 369h2v1h-2zM70 368h6v1h-6zM72 367h12v1h-12zM76 366h10v1h-10zM84 365h6v1h-6zM86 364h1v1h-1zM87 366h3v1h-3zM89 367h2v3h-2zM90 370h2v1h-2zM90 371h6v1h-6zM90 372h7v1h-7zM95 373h2v1h-2zM96 374h2v1h-2zM97 375h2v1h-2zM98 376h2v2h-2zM99 379h4v1h-4zM99 378h10v1h-10zM103 377h5v1h-5zM107 379h2v1h-2zM108 380h2v1h-2zM108 381h3v1h-3zM109 382h4v1h-4zM111 383h3v1h-3zM113 384h2v1h-2zM114 385h6v1h-6zM115 386h6v1h-6zM120 387h2v1h-2zM121 388h3v1h-3zM122 389h2v1h-2zM123 390h2v2h-2zM124 392h2v2h-2zM125 394h2v3h-2zM126 397h2v4h-2zM127 401h2v3h-2zM128 404h2v3h-2zM129 407h2v2h-2zM130 409h2v2h-2zM131 411h2v2h-2zM132 415h2v1h-2zM132 414h5v1h-5zM132 413h8v1h-8zM137 412h3v1h-3zM139 414h2v2h-2zM140 416h2v2h-2zM140 418h5v1h-5zM142 419h2v1h-2zM143 417h2v1h-2zM144 415h2v2h-2zM145 414h3v1h-3zM145 413h6v1h-6zM148 412h6v1h-6zM151 411h5v1h-5zM154 410h3v1h-3zM155 409h2v1h-2zM156 407h2v2h-2zM157 404h2v3h-2zM158 402h2v2h-2zM159 400h2v2h-2zM160 399h2v1h-2zM161 398h2v1h-2zM162 397h2v1h-2zM163 395h2v2h-2zM164 393h2v2h-2zM165 391h2v2h-2zM166 389h2v2h-2zM167 388h8v1h-8zM168 387h7v1h-7zM173 389h2v1h-2zM174 390h2v6h-2zM175 396h2v6h-2zM176 402h2v5h-2zM177 407h2v6h-2zM178 413h2v4h-2zM179 417h2v4h-2zM180 421h2v4h-2zM181 425h2v2h-2zM182 427h2v2h-2zM183 429h2v2h-2zM184 431h2v1h-2zM185 432h2v1h-2zM186 433h2v2h-2zM187 436h5v1h-5zM187 435h6v1h-6zM192 433h2v2h-2zM193 432h2v1h-2zM194 430h2v2h-2zM195 429h2v1h-2zM195 428h10v1h-10zM196 427h8v1h-8zM203 429h2v1h-2zM204 430h2v2h-2zM205 432h2v4h-2zM206 436h2v2h-2zM207 438h2v2h-2zM208 440h2v2h-2zM209 442h2v2h-2zM210 445h3v1h-3zM210 444h4v1h-4zM212 443h2v1h-2zM213 440h2v3h-2zM214 438h2v2h-2zM215 436h2v2h-2zM216 435h2v1h-2zM217 434h2v1h-2zM218 432h2v2h-2zM219 430h2v2h-2zM220 428h2v2h-2zM221 426h2v2h-2zM222 425h2v1h-2zM223 424h2v1h-2zM224 423h3v1h-3zM225 422h6v1h-6zM227 421h7v1h-7zM231 420h4v1h-4zM233 419h2v1h-2zM234 417h2v2h-2zM235 415h2v2h-2zM236 413h2v2h-2zM237 412h2v1h-2zM238 411h2v1h-2zM239 409h2v2h-2zM240 408h2v1h-2zM241 406h2v2h-2zM242 404h2v2h-2zM243 403h2v1h-2zM244 402h7v1h-7zM245 401h3v1h-3zM248 403h2v1h-2zM250 400h2v2h-2zM251 398h2v2h-2zM252 396h2v2h-2zM253 395h2v1h-2zM253 394h3v1h-3zM254 393h4v1h-4zM256 392h3v1h-3zM257 391h2v1h-2zM258 388h2v3h-2zM259 385h2v3h-2zM260 382h2v3h-2zM261 379h2v3h-2zM262 376h2v3h-2zM263 374h2v2h-2zM264 372h2v2h-2zM265 370h2v2h-2zM266 368h2v2h-2zM267 366h2v2h-2zM268 365h13v1h-13zM269 364h9v1h-9zM278 366h2v1h-2zM280 364h2v1h-2zM281 363h2v1h-2zM282 362h2v1h-2zM283 361h2v1h-2zM284 360h2v1h-2zM285 359h3v1h-3zM286 358h3v1h-3zM288 357h7v1h-7zM289 356h5v1h-5zM294 358h2v1h-2zM295 359h2v1h-2zM296 360h6v1h-6zM297 361h4v1h-4zM300 359h2v1h-2zM301 356h2v3h-2zM302 353h2v3h-2zM303 351h2v2h-2zM304 350h2v1h-2zM304 349h4v1h-4zM305 348h2v1h-2zM307 350h5v1h-5zM308 351h5v1h-5zM312 352h3v1h-3zM313 353h3v1h-3zM314 354h2v1h-2zM315 355h2v2h-2zM316 357h8v1h-8zM317 358h6v1h-6zM323 356h2v1h-2zM324 355h9v1h-9zM325 354h9v1h-9zM333 353h2v1h-2zM334 352h2v1h-2zM335 351h2v1h-2zM336 349h2v2h-2zM337 347h2v2h-2zM338 345h2v2h-2zM339 342h2v3h-2zM340 340h2v2h-2zM341 338h2v2h-2zM342 337h2v1h-2zM342 336h5v1h-5zM344 335h7v1h-7zM347 334h3v1h-3zM349 336h2v1h-2zM350 337h2v1h-2zM350 338h15v1h-15zM351 339h15v1h-15zM364 340h2v1h-2zM365 341h2v3h-2zM366 344h2v3h-2zM367 347h2v3h-2zM368 350h2v3h-2zM369 353h2v3h-2zM370 356h2v3h-2zM371 359h2v3h-2zM372 362h2v2h-2zM373 364h2v3h-2zM374 367h2v2h-2zM375 369h2v3h-2zM376 372h2v2h-2zM377 374h2v2h-2zM378 376h2v1h-2zM379 377h2v2h-2zM380 379h2v1h-2zM381 380h2v1h-2zM382 381h2v2h-2zM383 383h2v1h-2zM384 384h2v1h-2zM385 385h2v2h-2zM386 387h2v1h-2zM386 388h5v1h-5zM388 389h4v1h-4zM391 390h2v2h-2zM392 392h2v2h-2zM393 394h3v1h-3zM394 395h3v1h-3zM395 396h2v1h-2zM396 397h2v2h-2zM397 399h2v2h-2zM398 401h2v2h-2zM398 403h8v1h-8zM399 404h6v1h-6zM405 401h2v2h-2zM406 400h2v1h-2zM407 399h2v1h-2zM408 398h3v1h-3zM409 397h3v1h-3zM411 396h2v1h-2zM412 394h2v2h-2zM413 393h2v1h-2zM414 392h2v1h-2zM414 391h13v1h-13zM415 390h4v1h-4zM419 392h2v1h-2zM421 390h5v1h-5zM426 392h3v1h-3zM427 393h4v1h-4zM429 394h3v1h-3zM431 395h2v1h-2zM432 396h8v1h-8zM433 397h6v1h-6zM439 394h2v2h-2zM440 393h2v1h-2zM441 391h2v2h-2zM442 389h2v2h-2zM443 387h2v2h-2zM444 385h2v2h-2zM445 383h2v2h-2zM446 382h2v1h-2zM446 381h4v1h-4zM448 380h4v1h-4zM450 379h3v1h-3zM452 378h2v1h-2zM453 376h2v2h-2zM454 375h2v1h-2zM454 374h3v1h-3zM455 373h3v1h-3zM457 371h2v2h-2zM458 370h2v1h-2zM459 369h2v1h-2zM460 368h6v1h-6zM461 367h2v1h-2zM463 369h5v1h-5zM466 370h10v1h-10zM468 371h9v1h-9zM475 372h2v1h-2zM476 373h2v2h-2zM477 375h2v2h-2zM478 377h2v3h-2zM479 380h2v1h-2zM480 381h2v1h-2zM481 382h3v1h-3zM482 383h3v1h-3zM484 384h3v1h-3zM485 385h4v1h-4zM487 386h4v1h-4zM489 387h3v1h-3zM491 388h3v1h-3zM492 389h4v1h-4zM494 390h3v1h-3zM495 391h2v1h-2zM496 392h2v1h-2zM497 393h2v2h-2zM498 395h2v2h-2zM499 397h2v2h-2zM500 399h2v2h-2zM501 401h2v2h-2zM502 404h7v1h-7zM502 403h8v1h-8zM508 402h2v1h-2zM509 400h2v2h-2zM510 398h2v2h-2zM511 397h2v1h-2zM512 396h5v1h-5zM513 395h5v1h-5zM516 394h2v1h-2zM517 392h2v2h-2zM518 388h2v4h-2zM519 384h2v4h-2zM520 381h2v3h-2zM521 379h2v2h-2zM522 377h2v2h-2zM523 375h2v2h-2zM524 373h2v2h-2zM525 372h2v1h-2zM526 370h2v2h-2zM527 369h2v1h-2zM528 368h2v1h-2zM529 367h2v1h-2zM530 366h2v1h-2zM531 365h2v1h-2zM532 363h2v2h-2zM533 361h2v2h-2zM534 359h2v2h-2zM535 357h2v2h-2zM536 355h2v2h-2zM537 354h4v1h-4zM537 353h15v1h-15zM541 352h3v1h-3zM544 354h9v1h-9zM552 355h2v1h-2zM553 356h3v1h-3zM554 357h4v1h-4zM556 358h3v1h-3zM557 359h2v1h-2zM558 360h2v2h-2zM559 362h3v1h-3zM560 363h2v2h-2zM561 365h2v4h-2zM562 369h2v3h-2zM563 372h2v4h-2zM564 376h2v6h-2zM565 382h2v5h-2zM566 387h2v3h-2zM567 390h13v1h-13zM568 391h13v1h-13zM579 392h2v1h-2zM580 393h2v2h-2zM581 396h4v1h-4zM581 395h5v1h-5zM584 394h2v1h-2zM585 392h2v2h-2zM586 390h2v2h-2zM587 389h2v1h-2zM588 388h6v1h-6zM589 387h6v1h-6zM594 385h2v2h-2zM595 384h2v1h-2zM596 382h2v2h-2zM597 381h2v1h-2zM598 379h2v2h-2zM599 377h2v2h-2zM600 374h2v3h-2zM601 371h2v3h-2zM602 368h2v3h-2zM603 366h2v2h-2zM604 364h2v2h-2zM605 362h2v2h-2zM606 360h2v2h-2zM607 358h2v2h-2zM608 356h2v2h-2zM609 354h2v2h-2zM610 351h2v3h-2zM611 349h4v2h-4zM612 348h2v1h-2zM614 351h2v2h-2zM615 353h3v1h-3zM616 354h3v1h-3zM617 355h2v1h-2zM618 356h5v1h-5zM618 357h8v1h-8zM623 358h8v1h-8zM626 359h3v1h-3zM629 357h3v1h-3zM631 356h2v1h-2zM632 354h2v2h-2zM633 353h3v1h-3zM634 352h3v1h-3zM636 351h2v1h-2zM637 350h5v1h-5zM638 349h5v1h-5zM642 348h2v1h-2zM643 347h2v1h-2zM644 345h2v2h-2zM645 344h2v1h-2zM646 343h3v1h-3zM647 342h5v1h-5zM649 341h6v1h-6zM652 340h5v1h-5zM655 339h3v1h-3zM657 338h2v1h-2zM658 337h2v1h-2zM659 336h2v1h-2zM660 335h8v1h-8zM661 334h6v1h-6zM667 336h2v1h-2zM668 337h2v1h-2zM669 338h2v1h-2zM670 339h3v1h-3zM671 340h3v1h-3zM672 341h2v1h-2zM673 342h2v2h-2zM674 344h2v1h-2zM675 345h3v1h-3zM676 346h10v1h-10zM678 347h7v1h-7zM685 345h2v1h-2zM685 344h3v1h-3zM686 343h9v1h-9zM688 342h6v1h-6zM693 344h2v1h-2zM694 345h2v2h-2zM695 347h2v2h-2zM696 349h2v2h-2zM697 351h2v1h-2zM698 352h2v2h-2zM699 354h2v1h-2zM700 355h2v1h-2zM701 356h2v2h-2zM702 358h2v1h-2zM703 359h2v1h-2zM704 360h2v2h-2zM705 362h2v1h-2zM705 363h8v1h-8zM706 364h7v1h-7zM712 365h2v2h-2zM713 367h2v2h-2zM714 369h6v1h-6zM714 370h7v1h-7zM720 371h3v1h-3zM721 372h3v1h-3zM722 373h2v1h-2zM723 374h2v1h-2zM724 375h2v2h-2zM725 378h3v1h-3zM725 377h9v1h-9zM728 376h5v1h-5zM733 378h3v1h-3zM734 379h3v1h-3zM735 380h2v1h-2zM736 381h2v2h-2zM737 383h3v1h-3zM738 384h3v1h-3zM739 385h2v1h-2zM740 386h2v1h-2z" fill="#00008b"/>
<path d="M212 443h5v1h-5zM217 442h8v1h-8zM225 441h8v1h-8zM233 440h8v1h-8zM241 439h8v1h-8zM249 438h8v1h-8zM257 437h8v1h-8zM265 436h8v1h-8zM273 435h8v1h-8zM281 434h9v1h-9zM290 433h8v1h-8zM298 432h8v1h-8zM306 431h8v1h-8zM314 430h8v1h-8zM322 429h8v1h-8zM330 428h8v1h-8zM338 427h8v1h-8zM346 426h8v1h-8zM354 425h8v1h-8zM362 424h9v1h-9zM371 423h8v1h-8zM379 422h8v1h-8zM387 421h8v1h-8zM395 420h8v1h-8zM403 419h8v1h-8zM411 418h8v1h-8zM419 417h8v1h-8zM427 416h8v1h-8zM435 415h9v1h-9zM444 414h8v1h-8zM452 413h8v1h-8zM460 412h8v1h-8zM468 411h8v1h-8zM476 410h8v1h-8zM484 409h8v1h-8zM492 408h8v1h-8zM500 407h8v1h-8zM508 406h9v1h-9zM517 405h8v1h-8zM525 404h8v1h-8zM533 403h8v1h-8zM541 402h8v1h-8zM549 401h8v1h-8zM557 400h8v1h-8zM565 399h8v1h-8zM573 398h8v1h-8zM581 397h9v1h-9zM590 396h8v1h-8zM598 395h8v1h-8zM606 394h8v1h-8zM614 393h8v1h-8zM622 392h8v1h-8zM630 391h8v1h-8zM638 390h8v1h-8zM646 389h8v1h-8zM654 388h8v1h-8zM662 387h9v1h-9zM671 386h8v1h-8zM679 385h8v1h-8zM687 384h8v1h-8zM695 383h8v1h-8zM703 382h8v1h-8zM711 381h8v1h-8zM719 380h8v1h-8zM727 379h8v1h-8zM735 378h5v1h-5z" fill="#000"/>
<path d="M4 492h3v1h-3zM10 492h3v1h-3zM16 492h3v1h-3zM22 492h3v1h-3zM28 492h3v1h-3zM34 492h3v1h-3zM40 492h3v1h-3zM46 492h3v1h-3zM52 492h3v1h-3zM58 492h3v1h-3zM64 492h3v1h-3zM70 492h3v1h-3zM76 492h3v1h-3zM82 492h3v1h-3zM88 492h3v1h-3zM94 492h3v1h-3zM100 492h3v1h-3zM106 492h3v1h-3zM112 492h3v1h-3zM118 492h3v1h-3zM124 492h3v1h-3zM130 492h3v1h-3zM136 492h3v1h-3zM142 492h3v1h-3zM148 492h3v1h-3zM154 492h3v1h-3zM160 492h3v1h-3zM166 492h3v1h-3zM172 492h3v1h-3zM178 492h3v1h-3zM184 492h3v1h-3zM190 492h3v1h-3zM196 492h3v1h-3zM202 492h3v1h-3zM208 492h3v1h-3zM214 492h3v1h-3zM220 492h3v1h-3zM226 492h3v1h-3zM232 492h3v1h-3zM238 492h3v1h-3zM244 492h3v1h-3zM250 492h3v1h-3zM256 492h3v1h-3zM262 492h3v1h-3zM268 492h3v1h-3zM274 492h3v1h-3zM280 492h3v1h-3zM286 492h3v1h-3zM292 492h3v1h-3zM298 492h3v1h-3zM304 492h3v1h-3zM310 492h3v1h-3zM316 492h3v1h-3zM322 492h3v1h-3zM328 492h3v1h-3zM334 492h3v1h-3zM340 492h3v1h-3zM346 492h3v1h-3zM352 492h3v1h-3zM358 492h3v1h-3zM364 492h3v1h-3zM370 492h3v1h-3zM376 492h3v1h-3zM382 492h3v1h-3zM388 492h3v1h-3zM394 492h3v1h-3zM400 492h3v1h-3zM406 492h3v1h-3zM412 492h3v1h-3zM418 492h3v1h-3zM424 492h3v1h-3zM430 492h3v1h-3zM436 492h3v1h-3zM442 492h3v1h-3zM448 492h3v1h-3zM454 492h3v1h-3zM460 492h3v1h-3zM466 492h3v1h-3zM472 492h3v1h-3zM478 492h3v1h-3zM484 492h3v1h-3zM490 492h3v1h-3zM496 492h3v1h-3zM502 492h3v1h-3zM508 492h3v1h-3zM514 492h3v1h-3zM520 492h3v1h-3zM526 492h3v1h-3zM532 492h3v1h-3zM538 492h3v1h-3zM544 492h3v1h-3zM550 492h3v1h-3zM556 492h3v1h-3zM562 492h3v1h-3zM568 492h3v1h-3zM574 492h3v1h-3zM580 492h3v1h-3zM586 492h3v1h-3zM592 492h3v1h-3zM598 492h3v1h-3zM604 492h3v1h-3zM610 492h3v1h-3zM616 492h3v1h-3zM622 492h3v1h-3zM628 492h3v1h-3zM634 492h3v1h-3zM640 492h3v1h-3zM646 492h3v1h-3zM652 492h3v1h-3zM658 492h3v1h-3zM664 492h3v1h-3zM670 492h3v1h-3zM676 492h3v1h-3zM682 492h3v1h-3zM688 492h3v1h-3zM694 492h3v1h-3zM700 492h3v1h-3zM706 492h3v1h-3zM712 492h3v1h-3zM718 492h3v1h-3zM724 492h3v1h-3zM730 492h3v1h-3zM736 492h3v1h-3zM742 492h3v1h-3zM748 492h3v1h-3z" fill="#c0c0c0"/>
<path d="M4 541h3v1h-3zM10 541h3v1h-3zM16 541h3v1h-3zM22 541h3v1h-3zM28 541h3v1h-3zM34 541h3v1h-3zM40 541h3v1h-3zM46 541h3v1h-3zM52 541h3v1h-3zM58 541h3v1h-3zM64 541h3v1h-3zM70 541h3v1h-3zM76 541h3v1h-3zM82 541h3v1h-3zM88 541h3v1h-3zM94 541h3v1h-3zM100 541h3v1h-3zM106 541h3v1h-3zM112 541h3v1h-3zM118 541h3v1h-3zM124 541h3v1h-3zM130 541h3v1h-3zM136 541h3v1h-3zM142 541h3v1h-3zM148 541h3v1h-3zM154 541h3v1h-3zM160 541h3v1h-3zM166 541h3v1h-3zM172 541h3v1h-3zM178 541h3v1h-3zM184 541h3v1h-3zM190 541h3v1h-3zM196 541h3v1h-3zM202 541h3v1h-3zM208 541h3v1h-3zM214 541h3v1h-3zM220 541h3v1h-3zM226 541h3v1h-3zM232 541h3v1h-3zM238 541h3v1h-3zM244 541h3v1h-3zM250 541h3v1h-3zM256 541h3v1h-3zM262 541h3v1h-3zM268 541h3v1h-3zM274 541h3v1h-3zM280 541h3v1h-3zM286 541h3v1h-3zM292 541h3v1h-3zM298 541h3v1h-3zM304 541h3v1h-3zM310 541h3v1h-3zM316 541h3v1h-3zM322 541h3v1h-3zM328 541h3v1h-3zM334 541h3v1h-3zM340 541h3v1h-3zM346 541h3v1h-3zM352 541h3v1h-3zM358 541h3v1h-3zM364 541h3v1h-3zM370 541h3v1h-3zM376 541h3v1h-3zM382 541h3v1h-3zM388 541h3v1h-3zM394 541h3v1h-3zM400 541h3v1h-3zM406 541h3v1h-3zM412 541h3v1h-3zM418 541h3v1h-3zM424 541h3v1h-3zM430 541h3v1h-3zM436 541h3v1h-3zM442 541h3v1h-3zM448 541h3v1h-3zM454 541h3v1h-3zM460 541h3v1h-3zM466 541h3v1h-3zM472 541h3v1h-3zM478 541h3v1h-3zM484 541h3v1h-3zM490 541h3v1h-3zM496 541h3v1h-3zM502 541h3v1h-3zM508 541h3v1h-3zM514 541h3v1h-3zM520 541h3v1h-3zM526 541h3v1h-3zM532 541h3v1h-3zM538 541h3v1h-3zM544 541h3v1h-3zM550 541h3v1h-3zM556 541h3v1h-3zM562 541h3v1h-3zM568 541h3v1h-3zM574 541h3v1h-3zM580 541h3v1h-3zM586 541h3v1h-3zM592 541h3v1h-3zM598 541h3v1h-3zM604 541h3v1h-3zM610 541h3v1h-3zM616 541h3v1h-3zM622 541h3v1h-3zM628 541h3v1h-3zM634 541h3v1h-3zM640 541h3v1h-3zM646 541h3v1h-3zM652 541h3v1h-3zM658 541h3v1h-3zM664 541h3v1h-3zM670 541h3v1h-3zM676 541h3v1h-3zM682 541h3v1h-3zM688 541h3v1h-3zM694 541h3v1h-3zM700 541h3v1h-3zM706 541h3v1h-3zM712 541h3v1h-3zM718 541h3v1h-3zM724 541h3v1h-3zM730 541h3v1h-3zM736 541h3v1h-3zM742 541h3v1h-3zM748 541h3v1h-3z" fill="#c0c0c0"/>
<path d="M3 541h1v2h-1zM4 543h1v2h-1zM5 545h1v2h-1zM6 547h1v2h-1zM7 549h1v1h-1zM7 550h5v1h-5zM12 551h2v1h-2zM13 550h1v1h-1zM13 552h1v1h-1zM14 544h1v6h-1zM15 541h1v1h-1zM15 543h1v1h-1zM15 542h2v1h-2zM17 543h1v1h-1zM18 544h1v2h-1zM19 546h1v1h-1zM20 547h1v2h-1zM21 549h1v3h-1zM22 552h1v2h-1zM23 554h1v1h-1zM23 555h3v1h-3zM26 556h1v1h-1zM27 557h1v1h-1zM28 555h1v2h-1zM29 550h1v5h-1zM30 543h1v7h-1zM31 538h1v5h-1zM32 534h1v4h-1zM33 532h1v2h-1zM34 531h2v1h-2zM36 530h2v1h-2zM37 529h1v1h-1zM37 531h1v1h-1zM38 532h1v6h-1zM39 538h1v4h-1zM40 542h1v3h-1zM40 545h2v1h-2zM41 546h1v2h-1zM42 540h1v5h-1zM43 537h1v1h-1zM43 539h1v1h-1zM43 538h2v1h-2zM45 539h1v1h-1zM46 538h1v1h-1zM46 537h2v1h-2zM47 536h1v1h-1zM48 538h1v2h-1zM48 540h2v2h-2zM49 542h1v2h-1zM50 533h1v7h-1zM51 528h1v5h-1zM52 524h1v4h-1zM53 521h1v3h-1zM54 520h2v1h-2zM55 519h1v1h-1zM56 515h1v4h-1zM57 511h1v4h-1zM58 508h1v3h-1zM59 506h1v2h-1zM60 508h1v4h-1zM61 512h1v3h-1zM62 515h1v3h-1zM63 518h1v1h-1zM63 519h3v1h-3zM65 518h1v1h-1zM66 514h1v4h-1zM67 510h1v4h-1zM68 506h1v4h-1zM69 504h1v1h-1zM69 505h2v1h-2zM70 506h1v1h-1zM71 507h1v3h-1zM72 510h1v2h-1zM73 512h1v2h-1zM74 514h1v1h-1zM75 515h1v1h-1zM76 513h1v2h-1zM77 512h1v1h-1zM78 513h1v2h-1zM79 515h1v1h-1zM80 513h1v2h-1zM81 512h1v1h-1zM82 513h1v2h-1zM83 516h1v1h-1zM83 515h2v1h-2zM84 514h1v1h-1zM85 512h1v2h-1zM86 511h2v1h-2zM87 510h1v1h-1zM88 512h1v4h-1zM89 516h1v3h-1zM90 519h1v4h-1zM91 524h1v2h-1zM91 523h2v1h-2zM92 520h1v3h-1zM93 518h1v2h-1zM94 516h2v2h-2zM95 515h1v1h-1zM96 518h1v4h-1zM97 522h1v2h-1zM97 524h3v1h-3zM100 522h1v2h-1zM101 520h1v2h-1zM102 518h1v2h-1zM103 516h1v1h-1zM103 517h2v1h-2zM104 518h1v1h-1zM105 519h1v1h-1zM106 517h2v2h-2zM107 516h1v1h-1zM108 519h1v5h-1zM109 526h1v1h-1zM109 524h2v2h-2zM111 522h1v2h-1zM112 521h2v1h-2zM113 522h1v1h-1zM114 523h1v2h-1zM115 526h1v1h-1zM115 525h2v1h-2zM116 524h1v1h-1zM117 523h1v1h-1zM118 521h1v2h-1zM119 519h1v2h-1zM120 521h1v4h-1zM121 525h1v2h-1zM121 527h3v1h-3zM124 528h1v2h-1zM125 530h1v3h-1zM126 533h1v2h-1zM127 535h1v2h-1zM128 537h1v2h-1zM129 539h1v1h-1zM129 540h5v1h-5zM133 538h1v2h-1zM134 533h1v5h-1zM135 531h1v2h-1zM135 530h3v1h-3zM138 531h1v2h-1zM139 533h1v3h-1zM140 536h1v5h-1zM141 541h1v3h-1zM142 535h1v6h-1zM143 530h1v5h-1zM144 528h1v2h-1zM145 526h1v2h-1zM146 525h1v1h-1zM146 524h2v1h-2zM147 523h1v1h-1zM148 525h1v4h-1zM149 530h1v1h-1zM149 529h2v1h-2zM151 528h1v1h-1zM152 529h1v1h-1zM153 530h1v1h-1zM154 528h1v2h-1zM155 525h1v3h-1zM156 522h1v3h-1zM157 519h1v3h-1zM158 517h1v2h-1zM159 515h1v2h-1zM160 517h1v2h-1zM161 519h1v2h-1zM162 521h1v1h-1zM163 522h1v1h-1zM164 520h1v2h-1zM165 518h1v2h-1zM166 516h1v2h-1zM167 515h1v1h-1zM168 516h1v2h-1zM169 518h1v2h-1zM170 520h1v3h-1zM171 524h1v1h-1zM171 523h3v1h-3zM172 522h2v1h-2zM173 521h1v1h-1zM173 524h1v1h-1zM174 525h1v7h-1zM175 532h1v5h-1zM176 537h1v3h-1zM177 540h1v2h-1zM178 542h1v2h-1zM179 544h1v2h-1zM180 541h1v3h-1zM181 539h1v2h-1zM182 538h2v1h-2zM184 537h1v1h-1zM185 536h1v1h-1zM186 537h1v1h-1zM187 538h1v1h-1zM188 539h2v1h-2zM189 540h1v1h-1zM190 537h1v2h-1zM191 535h1v2h-1zM192 533h1v2h-1zM193 532h1v1h-1zM194 530h1v2h-1zM195 529h3v1h-3zM197 530h1v1h-1zM198 531h1v3h-1zM199 534h1v1h-1zM199 535h5v1h-5zM203 536h1v1h-1zM204 537h1v4h-1zM205 541h1v3h-1zM206 544h1v2h-1zM207 547h1v1h-1zM207 546h2v1h-2zM209 545h3v1h-3zM211 543h1v2h-1zM212 537h1v6h-1zM213 533h1v4h-1zM214 532h2v1h-2zM215 531h1v1h-1zM216 533h1v2h-1zM217 536h1v1h-1zM217 535h2v1h-2zM218 534h1v1h-1zM219 531h1v3h-1zM220 527h1v4h-1zM221 524h1v1h-1zM221 525h2v2h-2zM223 527h1v1h-1zM224 528h2v1h-2zM225 529h1v1h-1zM226 530h1v2h-1zM227 533h1v1h-1zM227 532h2v1h-2zM229 531h1v1h-1zM230 532h1v1h-1zM231 533h1v1h-1zM232 534h2v1h-2zM233 535h1v1h-1zM234 530h1v4h-1zM235 527h1v3h-1zM236 524h1v3h-1zM237 522h1v1h-1zM237 523h3v1h-3zM240 524h2v1h-2zM242 525h1v1h-1zM243 526h1v1h-1zM244 525h1v1h-1zM245 524h1v1h-1zM246 525h1v2h-1zM247 527h1v2h-1zM248 529h1v1h-1zM248 530h2v1h-2zM249 531h1v1h-1zM250 526h1v4h-1zM251 523h1v3h-1zM252 521h1v2h-1zM253 520h1v1h-1zM254 519h1v1h-1zM254 518h2v1h-2zM255 517h1v1h-1zM256 519h1v3h-1zM257 522h1v2h-1zM258 520h1v2h-1zM259 516h1v4h-1zM260 511h1v5h-1zM261 508h1v3h-1zM262 506h1v2h-1zM263 505h1v1h-1zM264 504h2v1h-2zM266 505h1v2h-1zM267 507h1v1h-1zM268 505h2v2h-2zM269 504h1v1h-1zM270 507h1v4h-1zM271 513h1v1h-1zM271 512h2v1h-2zM271 511h3v1h-3zM273 510h1v1h-1zM274 512h1v2h-1zM275 515h1v1h-1zM275 514h3v1h-3zM278 515h2v1h-2zM279 514h1v1h-1zM280 510h1v4h-1zM281 507h1v1h-1zM281 508h2v2h-2zM283 510h1v1h-1zM284 508h1v2h-1zM285 506h1v1h-1zM285 507h2v1h-2zM286 508h1v1h-1zM287 509h1v1h-1zM288 507h1v2h-1zM289 506h1v1h-1zM290 507h1v2h-1zM291 509h1v1h-1zM292 510h2v1h-2zM293 511h1v1h-1zM294 512h1v3h-1zM295 516h1v1h-1zM295 515h3v1h-3zM298 514h1v1h-1zM299 511h1v3h-1zM300 506h1v5h-1zM301 502h1v4h-1zM302 498h1v4h-1zM303 495h1v1h-1zM303 496h2v2h-2zM305 498h1v2h-1zM306 500h1v2h-1zM307 502h1v4h-1zM308 506h1v6h-1zM309 514h1v2h-1zM309 512h2v2h-2zM310 511h1v1h-1zM311 509h1v1h-1zM311 510h2v1h-2zM313 511h1v1h-1zM314 512h1v2h-1zM315 514h1v1h-1zM316 515h2v1h-2zM318 513h1v2h-1zM319 512h1v1h-1zM320 511h1v1h-1zM321 510h1v1h-1zM322 508h1v2h-1zM323 506h1v2h-1zM324 504h1v2h-1zM325 503h1v1h-1zM326 504h1v2h-1zM327 506h1v1h-1zM328 507h1v2h-1zM329 509h1v1h-1zM330 508h2v1h-2zM331 507h1v1h-1zM332 505h1v2h-1zM333 503h1v2h-1zM334 502h1v1h-1zM335 501h1v1h-1zM336 499h1v2h-1zM337 497h1v2h-1zM338 495h1v2h-1zM339 492h1v3h-1zM340 489h1v3h-1zM341 487h1v1h-1zM341 488h2v1h-2zM342 489h1v1h-1zM343 490h1v4h-1zM344 494h1v6h-1zM345 502h1v2h-1zM345 500h2v2h-2zM347 498h1v1h-1zM347 499h2v1h-2zM349 500h1v2h-1zM350 502h1v4h-1zM351 506h1v1h-1zM351 508h1v1h-1zM351 507h2v1h-2zM353 506h1v1h-1zM354 504h1v2h-1zM355 502h1v2h-1zM356 500h1v2h-1zM357 498h1v2h-1zM358 500h1v3h-1zM359 504h1v1h-1zM359 503h2v1h-2zM361 502h1v1h-1zM362 501h1v1h-1zM362 500h2v1h-2zM363 498h1v2h-1zM364 501h1v4h-1zM365 505h1v5h-1zM366 510h1v4h-1zM367 514h1v4h-1zM368 518h1v4h-1zM369 523h1v1h-1zM369 522h3v1h-3zM372 523h1v2h-1zM373 525h1v1h-1zM374 526h1v2h-1zM375 529h1v1h-1zM375 528h2v1h-2zM377 527h1v1h-1zM378 526h1v1h-1zM379 525h1v1h-1zM380 526h1v2h-1zM381 528h1v1h-1zM381 529h3v1h-3zM384 530h1v1h-1zM385 531h1v1h-1zM386 529h1v2h-1zM387 528h1v1h-1zM388 529h2v1h-2zM390 530h1v2h-1zM391 532h1v1h-1zM392 533h1v2h-1zM393 535h1v1h-1zM394 536h1v2h-1zM395 538h1v2h-1zM396 540h1v2h-1zM397 542h1v2h-1zM398 544h2v1h-2zM399 543h1v1h-1zM400 539h1v4h-1zM401 536h1v3h-1zM402 533h1v3h-1zM403 532h1v1h-1zM403 531h3v1h-3zM405 530h1v1h-1zM406 526h1v4h-1zM407 525h1v1h-1zM407 524h3v1h-3zM410 525h2v1h-2zM411 526h1v1h-1zM412 523h1v2h-1zM413 521h1v2h-1zM414 520h1v1h-1zM415 519h1v1h-1zM416 520h1v2h-1zM417 522h1v4h-1zM418 526h1v4h-1zM419 531h1v2h-1zM419 530h2v1h-2zM420 527h1v3h-1zM421 526h1v1h-1zM421 525h3v1h-3zM424 526h1v2h-1zM425 528h1v2h-1zM426 530h1v1h-1zM427 531h1v1h-1zM428 532h1v1h-1zM429 533h3v1h-3zM431 534h1v1h-1zM432 535h1v2h-1zM433 538h1v1h-1zM433 537h2v1h-2zM434 536h1v1h-1zM435 535h1v1h-1zM436 533h1v2h-1zM437 532h1v1h-1zM438 531h1v1h-1zM439 529h1v2h-1zM440 525h1v4h-1zM441 523h1v2h-1zM442 521h1v2h-1zM443 517h1v4h-1zM444 509h1v8h-1zM445 505h1v2h-1zM445 507h2v2h-2zM447 509h1v3h-1zM448 512h1v3h-1zM449 515h1v2h-1zM450 517h1v2h-1zM451 519h1v2h-1zM452 515h1v4h-1zM453 511h1v4h-1zM454 509h1v2h-1zM454 508h2v1h-2zM455 506h1v2h-1zM456 509h1v4h-1zM457 513h1v3h-1zM458 508h1v5h-1zM459 505h1v1h-1zM459 506h2v2h-2zM461 508h1v3h-1zM462 511h1v4h-1zM463 515h1v1h-1zM463 516h3v1h-3zM466 515h1v1h-1zM467 514h1v1h-1zM468 515h1v2h-1zM469 517h1v2h-1zM470 519h2v2h-2zM471 521h1v1h-1zM472 513h1v6h-1zM473 510h1v2h-1zM473 512h2v1h-2zM474 513h1v3h-1zM475 516h1v4h-1zM476 520h1v5h-1zM477 525h1v2h-1zM477 527h3v1h-3zM480 528h1v1h-1zM481 529h1v1h-1zM482 527h1v2h-1zM483 525h1v1h-1zM483 526h2v1h-2zM484 527h2v1h-2zM485 528h1v1h-1zM486 525h1v2h-1zM487 523h1v1h-1zM487 524h2v1h-2zM489 525h1v2h-1zM490 527h1v2h-1zM491 530h1v1h-1zM491 529h2v1h-2zM492 528h1v1h-1zM493 527h1v1h-1zM494 528h1v2h-1zM495 530h1v1h-1zM496 531h1v2h-1zM497 533h1v2h-1zM498 535h1v2h-1zM499 537h1v2h-1zM500 539h1v2h-1zM501 541h1v2h-1zM502 537h1v4h-1zM503 534h1v3h-1zM504 531h1v3h-1zM505 529h1v1h-1zM505 530h2v1h-2zM506 531h1v1h-1zM507 532h1v2h-1zM508 528h1v4h-1zM509 524h1v4h-1zM510 521h1v3h-1zM511 519h1v1h-1zM511 520h3v1h-3zM513 521h1v1h-1zM514 522h1v3h-1zM515 526h1v1h-1zM515 525h2v1h-2zM516 524h1v1h-1zM517 521h1v3h-1zM518 516h1v5h-1zM519 511h1v5h-1zM520 507h1v4h-1zM521 504h1v1h-1zM521 505h2v2h-2zM523 507h1v1h-1zM524 506h2v1h-2zM525 505h1v1h-1zM526 507h1v3h-1zM527 511h1v1h-1zM527 510h2v1h-2zM528 509h1v1h-1zM529 508h1v1h-1zM530 509h1v1h-1zM531 510h1v1h-1zM532 508h1v2h-1zM533 506h1v2h-1zM534 504h1v2h-1zM535 501h1v3h-1zM536 500h1v1h-1zM536 499h2v1h-2zM537 497h1v2h-1zM538 500h1v6h-1zM539 506h1v1h-1zM539 509h1v1h-1zM539 507h2v2h-2zM541 506h1v1h-1zM542 507h1v1h-1zM543 508h3v1h-3zM546 509h1v1h-1zM547 510h1v1h-1zM548 509h1v1h-1zM549 508h1v1h-1zM550 507h1v1h-1zM550 506h2v1h-2zM551 504h1v2h-1zM552 507h1v6h-1zM553 515h1v2h-1zM553 513h2v2h-2zM555 511h1v2h-1zM556 513h1v2h-1zM557 515h1v2h-1zM558 517h1v1h-1zM558 518h2v1h-2zM559 519h1v1h-1zM560 516h1v2h-1zM560 514h2v2h-2zM561 512h1v2h-1zM562 516h1v8h-1zM563 524h1v7h-1zM564 531h1v6h-1zM564 537h2v2h-2zM565 539h1v4h-1zM566 527h1v10h-1zM567 521h1v1h-1zM567 524h1v3h-1zM567 522h2v2h-2zM569 525h1v1h-1zM569 524h2v1h-2zM570 523h1v1h-1zM571 521h1v2h-1zM572 520h2v1h-2zM574 521h1v1h-1zM575 522h1v1h-1zM576 521h1v1h-1zM577 520h1v1h-1zM578 521h2v1h-2zM579 522h1v1h-1zM580 523h1v3h-1zM581 527h1v1h-1zM581 526h2v1h-2zM583 525h1v1h-1zM584 523h1v2h-1zM585 520h1v3h-1zM586 516h1v4h-1zM587 514h1v1h-1zM587 515h2v1h-2zM589 516h1v2h-1zM590 518h1v2h-1zM591 520h1v1h-1zM591 521h3v1h-3zM594 519h1v2h-1zM595 518h1v1h-1zM596 516h1v2h-1zM597 514h1v1h-1zM597 515h3v1h-3zM599 516h1v1h-1zM600 511h1v4h-1zM601 508h1v3h-1zM602 506h1v2h-1zM603 504h1v1h-1zM603 505h3v1h-3zM606 504h4v1h-4zM609 503h1v1h-1zM610 501h1v2h-1zM611 499h1v1h-1zM611 500h2v1h-2zM613 501h1v4h-1zM614 505h1v8h-1zM615 513h1v1h-1zM615 516h1v1h-1zM615 515h2v1h-2zM615 514h3v1h-3zM617 513h1v1h-1zM618 515h1v2h-1zM619 517h1v2h-1zM620 515h1v2h-1zM621 513h1v2h-1zM622 511h1v2h-1zM623 510h1v1h-1zM624 511h1v2h-1zM625 514h1v1h-1zM625 513h2v1h-2zM626 512h1v1h-1zM627 511h1v1h-1zM628 512h2v1h-2zM629 513h1v1h-1zM630 510h1v2h-1zM631 508h1v2h-1zM632 507h1v1h-1zM633 506h1v1h-1zM634 505h2v1h-2zM636 504h1v1h-1zM637 503h1v1h-1zM638 502h2v1h-2zM639 501h1v1h-1zM640 503h1v4h-1zM641 508h1v2h-1zM641 507h2v1h-2zM642 504h1v3h-1zM643 501h1v3h-1zM644 500h2v1h-2zM646 499h2v1h-2zM648 500h1v2h-1zM649 502h3v1h-3zM652 500h1v2h-1zM653 499h3v1h-3zM656 498h1v1h-1zM657 497h1v1h-1zM658 495h1v2h-1zM659 494h1v1h-1zM660 492h1v2h-1zM661 491h1v1h-1zM662 492h1v2h-1zM663 494h1v3h-1zM664 497h1v2h-1zM665 500h1v1h-1zM665 499h2v1h-2zM667 498h1v1h-1zM668 499h1v1h-1zM669 500h1v1h-1zM670 501h1v2h-1zM671 504h1v1h-1zM671 503h3v1h-3zM673 504h1v1h-1zM674 505h1v4h-1zM675 509h1v2h-1zM676 507h1v2h-1zM677 505h1v2h-1zM678 504h1v1h-1zM679 503h1v1h-1zM680 504h1v1h-1zM680 505h2v1h-2zM681 506h1v1h-1zM682 503h1v2h-1zM683 501h1v2h-1zM684 499h1v2h-1zM685 497h1v2h-1zM686 496h2v1h-2zM688 495h1v1h-1zM689 494h1v1h-1zM690 495h1v1h-1zM691 496h1v1h-1zM692 497h1v1h-1zM693 498h1v5h-1zM694 503h1v10h-1zM695 513h1v2h-1zM695 517h1v1h-1zM695 515h2v2h-2zM697 513h1v1h-1zM697 514h2v1h-2zM699 515h1v1h-1zM700 514h1v1h-1zM700 513h2v1h-2zM701 512h1v1h-1zM702 514h1v4h-1zM703 518h1v1h-1zM703 519h3v1h-3zM705 518h1v1h-1zM706 514h1v4h-1zM707 512h1v1h-1zM707 513h2v1h-2zM709 514h3v1h-3zM711 515h1v2h-1zM712 517h1v6h-1zM713 524h1v2h-1zM713 523h2v1h-2zM714 520h1v3h-1zM715 518h1v2h-1zM716 516h1v2h-1zM717 514h1v1h-1zM717 515h2v1h-2zM719 516h1v2h-1zM720 518h1v4h-1zM721 522h1v3h-1zM722 525h1v2h-1zM723 527h1v2h-1zM724 525h1v2h-1zM725 522h1v3h-1zM726 519h1v3h-1zM727 518h1v1h-1zM727 517h3v1h-3zM730 518h1v2h-1zM731 520h1v3h-1zM732 523h1v3h-1zM733 526h1v2h-1zM734 528h1v2h-1zM735 530h3v1h-3zM738 529h2v1h-2zM740 530h1v2h-1zM741 532h1v2h-1z" fill="#1e90ff"/>
<rect x="2" y="2" width="753" height="1" fill="#000" />
<rect x="2" y="325" width="753" height="1" fill="#000" />
<rect x="2" y="2" width="1" height="324" fill="#000"/>
<rect x="754" y="2" width="1" height="324" fill="#000"/>
<rect x="2" y="327" width="753" height="1" fill="#000" />
<rect x="2" y="451" width="753" height="1" fill="#000" />
<rect x="2" y="327" width="1" height="125" fill="#000"/>
<rect x="754" y="327" width="1" height="125" fill="#000"/>
<rect x="2" y="453" width="753" height="1" fill="#000" />
<rect x="2" y="579" width="753" height="1" fill="#000" />
<rect x="2" y="453" width="1" height="127" fill="#000"/>
<rect x="754" y="453" width="1" height="127" fill="#000"/>
<rect x="755" y="25" width="2" height="1" fill="#000" />
<text transform="translate(760.6 29) scale(1 1.0)" font-size="9.9px" fill="#000" stroke="#000" stroke-width="0.15" text-anchor="start" textLength="32.5" lengthAdjust="spacingAndGlyphs" >1.60785</text>
<rect x="755" y="58" width="2" height="1" fill="#000" />
<text transform="translate(760.6 62) scale(1 1.0)" font-size="9.9px" fill="#000" stroke="#000" stroke-width="0.15" text-anchor="start" textLength="32.5" lengthAdjust="spacingAndGlyphs" >1.55515</text>
<rect x="755" y="91" width="2" height="1" fill="#000" />
<text transform="translate(760.6 95) scale(1 1.0)" font-size="9.9px" fill="#000" stroke="#000" stroke-width="0.15" text-anchor="start" textLength="32.5" lengthAdjust="spacingAndGlyphs" >1.50245</text>
<rect x="755" y="124" width="2" height="1" fill="#000" />
<text transform="translate(760.6 128) scale(1 1.0)" font-size="9.9px" fill="#000" stroke="#000" stroke-width="0.15" text-anchor="start" textLength="32.5" lengthAdjust="spacingAndGlyphs" >1.44975</text>
<rect x="755" y="157" width="2" height="1" fill="#000" />
<text transform="translate(760.6 161) scale(1 1.0)" font-size="9.9px" fill="#000" stroke="#000" stroke-width="0.15" text-anchor="start" textLength="32.5" lengthAdjust="spacingAndGlyphs" >1.39705</text>
<rect x="755" y="190" width="2" height="1" fill="#000" />
<text transform="translate(760.6 194) scale(1 1.0)" font-size="9.9px" fill="#000" stroke="#000" stroke-width="0.15" text-anchor="start" textLength="32.5" lengthAdjust="spacingAndGlyphs" >1.34435</text>
<rect x="755" y="223" width="2" height="1" fill="#000" />
<text transform="translate(760.6 227) scale(1 1.0)" font-size="9.9px" fill="#000" stroke="#000" stroke-width="0.15" text-anchor="start" textLength="32.5" lengthAdjust="spacingAndGlyphs" >1.29165</text>
<rect x="755" y="256" width="2" height="1" fill="#000" />
<text transform="translate(760.6 260) scale(1 1.0)" font-size="9.9px" fill="#000" stroke="#000" stroke-width="0.15" text-anchor="start" textLength="32.5" lengthAdjust="spacingAndGlyphs" >1.23895</text>
<rect x="755" y="289" width="2" height="1" fill="#000" />
<text transform="translate(760.6 293) scale(1 1.0)" font-size="9.9px" fill="#000" stroke="#000" stroke-width="0.15" text-anchor="start" textLength="32.5" lengthAdjust="spacingAndGlyphs" >1.18625</text>
<rect x="755" y="322" width="2" height="1" fill="#000" />
<text transform="translate(760.6 326) scale(1 1.0)" font-size="9.9px" fill="#000" stroke="#000" stroke-width="0.15" text-anchor="start" textLength="32.5" lengthAdjust="spacingAndGlyphs" >1.13355</text>
<rect x="756" y="125" width="41" height="11" fill="#2f4f4f"/>
<text transform="translate(760.6 134) scale(1 1.0)" font-size="9.9px" fill="#fff" stroke="#fff" stroke-width="0.15" text-anchor="start" textLength="32.5" lengthAdjust="spacingAndGlyphs" >1.43760</text>
<rect x="756" y="192" width="41" height="11" fill="#000"/>
<text transform="translate(760.6 201) scale(1 1.0)" font-size="9.9px" fill="#fff" stroke="#fff" stroke-width="0.15" text-anchor="start" textLength="32.5" lengthAdjust="spacingAndGlyphs" >1.33196</text>
<rect x="755" y="329" width="1" height="1" fill="#000" />
<text transform="translate(758.2 338) scale(1 1.0)" font-size="9.9px" fill="#000" stroke="#000" stroke-width="0.15" text-anchor="start" textLength="37.5" lengthAdjust="spacingAndGlyphs" >0.029261</text>
<rect x="755" y="373" width="2" height="1" fill="#000" />
<text transform="translate(758 377) scale(1 1.0)" font-size="9.9px" fill="#000" stroke="#000" stroke-width="0.15" text-anchor="start" textLength="18" lengthAdjust="spacingAndGlyphs" >0.00</text>
<text transform="translate(757.2 377) scale(1 1.0)" font-size="9.9px" fill="#000" stroke="#000" stroke-width="0.15" text-anchor="start" textLength="4.8" lengthAdjust="spacingAndGlyphs" >0</text>
<rect x="755" y="450" width="1" height="1" fill="#000" />
<text transform="translate(758.2 448) scale(1 1.0)" font-size="9.9px" fill="#000" stroke="#000" stroke-width="0.15" text-anchor="start" textLength="40.6" lengthAdjust="spacingAndGlyphs" >-0.051279</text>
<rect x="755" y="455" width="1" height="1" fill="#000" />
<text transform="translate(758.2 464) scale(1 1.0)" font-size="9.9px" fill="#000" stroke="#000" stroke-width="0.15" text-anchor="start" textLength="14.4" lengthAdjust="spacingAndGlyphs" >100</text>
<rect x="755" y="492" width="2" height="1" fill="#000" />
<text transform="translate(757.6 496) scale(1 1.0)" font-size="9.9px" fill="#000" stroke="#000" stroke-width="0.15" text-anchor="start" textLength="10" lengthAdjust="spacingAndGlyphs" >70</text>
<rect x="755" y="541" width="2" height="1" fill="#000" />
<text transform="translate(757.3 545) scale(1 1.0)" font-size="9.9px" fill="#000" stroke="#000" stroke-width="0.15" text-anchor="start" textLength="10" lengthAdjust="spacingAndGlyphs" >30</text>
<rect x="755" y="578" width="1" height="1" fill="#000" />
<text transform="translate(758.2 576) scale(1 1.0)" font-size="9.9px" fill="#000" stroke="#000" stroke-width="0.15" text-anchor="start" textLength="5" lengthAdjust="spacingAndGlyphs" >0</text>
<path d="M6 9h7v1h-7zM7 10h5v1h-5zM8 11h3v1h-3zM9 12h1v1h-1z" fill="#000"/>
<text transform="translate(18.3 14) scale(1 1.0)" font-size="9.9px" fill="#000" stroke="#000" stroke-width="0.15" text-anchor="start" textLength="72.7" lengthAdjust="spacingAndGlyphs" >GBPUSD,Weekly</text>
<text transform="translate(98 14) scale(1 1.0)" font-size="9.9px" fill="#000" stroke="#000" stroke-width="0.15" text-anchor="start" textLength="140" lengthAdjust="spacingAndGlyphs" >1.34478 1.34539 1.32771 1.33196</text>
<text transform="translate(7.5 340) scale(1 1.0)" font-size="9.9px" fill="#000" stroke="#000" stroke-width="0.15" text-anchor="start" textLength="153.5" lengthAdjust="spacingAndGlyphs" >MACD(12,26,9) -0.009285 -0.004495</text>
<text transform="translate(7.5 466) scale(1 1.0)" font-size="9.9px" fill="#000" stroke="#000" stroke-width="0.15" text-anchor="start" textLength="67" lengthAdjust="spacingAndGlyphs" >RSI(14) 35.7529</text>
<rect x="3" y="580" width="1" height="3" fill="#000"/>
<text transform="translate(2.5 592) scale(1 1.0)" font-size="9.9px" fill="#000" stroke="#000" stroke-width="0.15" text-anchor="start" textLength="50.5" lengthAdjust="spacingAndGlyphs" >26 Oct 2014</text>
<rect x="67" y="580" width="1" height="3" fill="#000"/>
<text transform="translate(66.5 592) scale(1 1.0)" font-size="9.9px" fill="#000" stroke="#000" stroke-width="0.15" text-anchor="start" textLength="44" lengthAdjust="spacingAndGlyphs" >7 Jun 2015</text>
<rect x="131" y="580" width="1" height="3" fill="#000"/>
<text transform="translate(130.5 592) scale(1 1.0)" font-size="9.9px" fill="#000" stroke="#000" stroke-width="0.15" text-anchor="start" textLength="49" lengthAdjust="spacingAndGlyphs" >17 Jan 2016</text>
<rect x="195" y="580" width="1" height="3" fill="#000"/>
<text transform="translate(194.5 592) scale(1 1.0)" font-size="9.9px" fill="#000" stroke="#000" stroke-width="0.15" text-anchor="start" textLength="52.5" lengthAdjust="spacingAndGlyphs" >28 Aug 2016</text>
<rect x="259" y="580" width="1" height="3" fill="#000"/>
<text transform="translate(258.5 592) scale(1 1.0)" font-size="9.9px" fill="#000" stroke="#000" stroke-width="0.15" text-anchor="start" textLength="45.5" lengthAdjust="spacingAndGlyphs" >9 Apr 2017</text>
<rect x="323" y="580" width="1" height="3" fill="#000"/>
<text transform="translate(322.5 592) scale(1 1.0)" font-size="9.9px" fill="#000" stroke="#000" stroke-width="0.15" text-anchor="start" textLength="53" lengthAdjust="spacingAndGlyphs" >19 Nov 2017</text>
<rect x="387" y="580" width="1" height="3" fill="#000"/>
<text transform="translate(386.5 592) scale(1 1.0)" font-size="9.9px" fill="#000" stroke="#000" stroke-width="0.15" text-anchor="start" textLength="42" lengthAdjust="spacingAndGlyphs" >1 Jul 2018</text>
<rect x="451" y="580" width="1" height="3" fill="#000"/>
<text transform="translate(450.5 592) scale(1 1.0)" font-size="9.9px" fill="#000" stroke="#000" stroke-width="0.15" text-anchor="start" textLength="51" lengthAdjust="spacingAndGlyphs" >10 Feb 2019</text>
<rect x="515" y="580" width="1" height="3" fill="#000"/>
<text transform="translate(514.5 592) scale(1 1.0)" font-size="9.9px" fill="#000" stroke="#000" stroke-width="0.15" text-anchor="start" textLength="51.5" lengthAdjust="spacingAndGlyphs" >22 Sep 2019</text>
<rect x="579" y="580" width="1" height="3" fill="#000"/>
<text transform="translate(578.5 592) scale(1 1.0)" font-size="9.9px" fill="#000" stroke="#000" stroke-width="0.15" text-anchor="start" textLength="49" lengthAdjust="spacingAndGlyphs" >3 May 2020</text>
<rect x="643" y="580" width="1" height="3" fill="#000"/>
<text transform="translate(642.5 592) scale(1 1.0)" font-size="9.9px" fill="#000" stroke="#000" stroke-width="0.15" text-anchor="start" textLength="51.5" lengthAdjust="spacingAndGlyphs" >13 Dec 2020</text>
<rect x="707" y="580" width="1" height="3" fill="#000"/>
<text transform="translate(706.5 592) scale(1 1.0)" font-size="9.9px" fill="#000" stroke="#000" stroke-width="0.15" text-anchor="start" textLength="46" lengthAdjust="spacingAndGlyphs" >25 Jul 2021</text>
</g>
</svg>
</body></html>
